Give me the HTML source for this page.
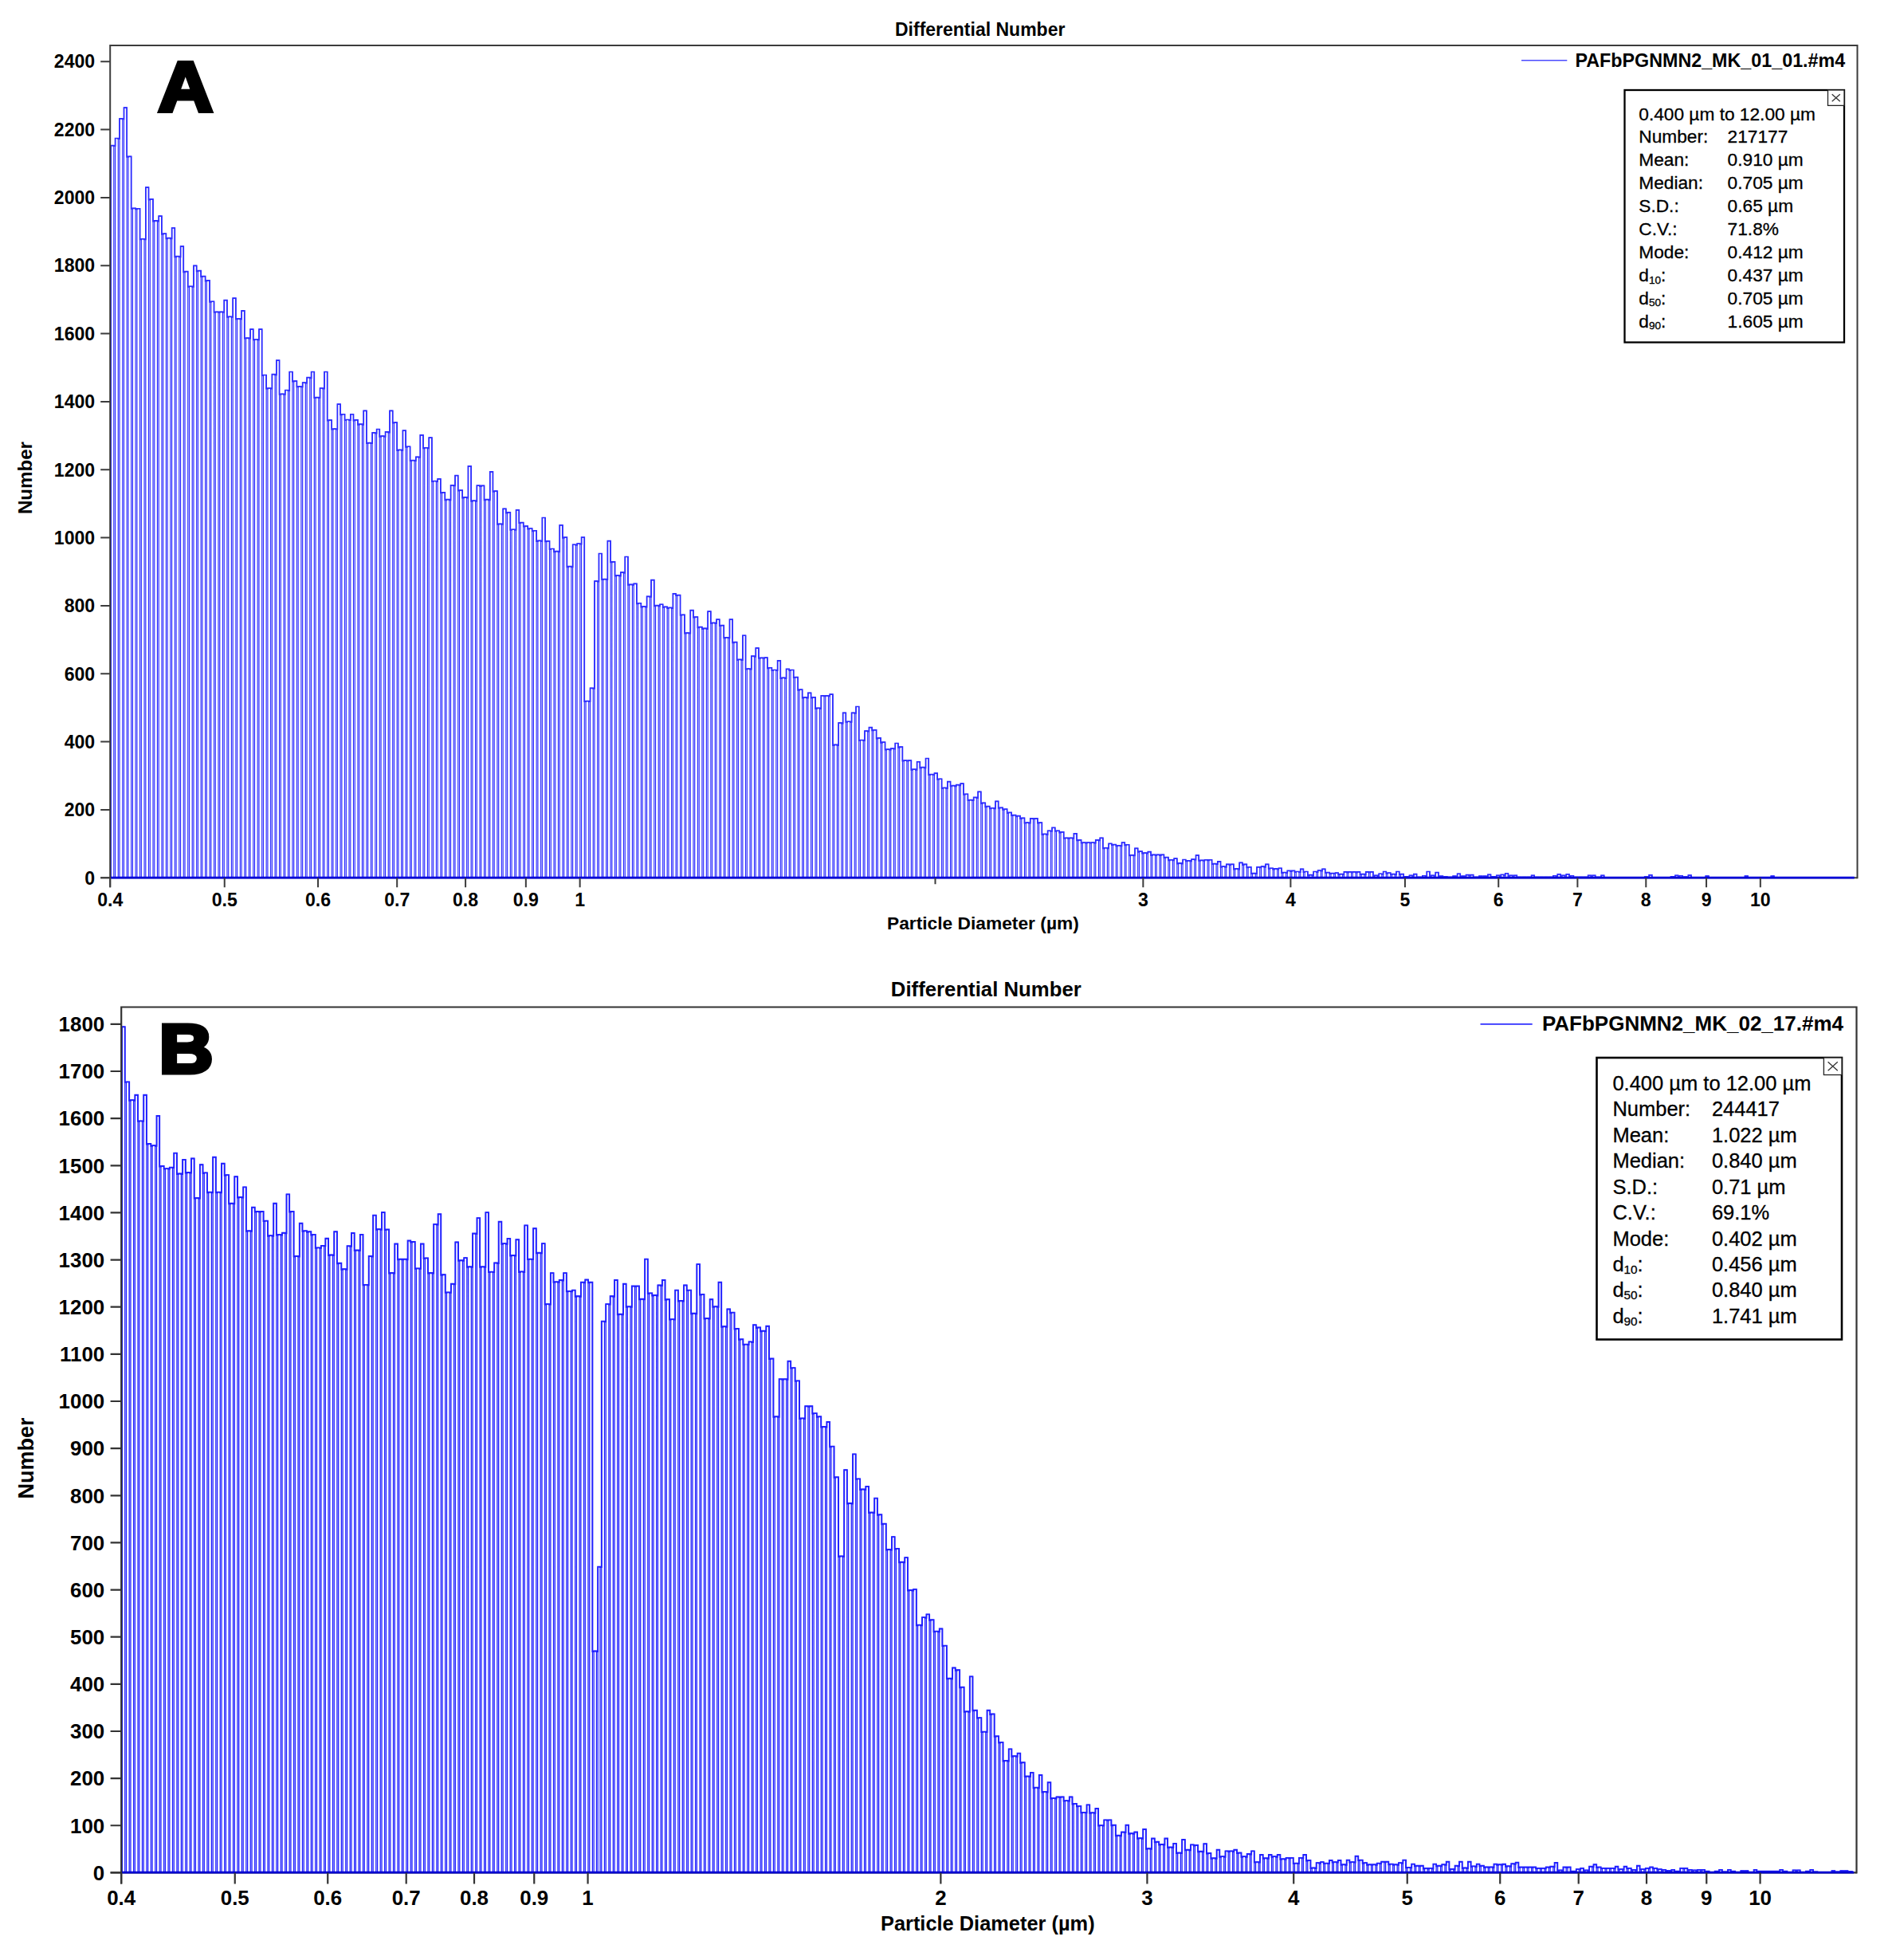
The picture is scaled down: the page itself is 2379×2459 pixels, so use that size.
<!DOCTYPE html>
<html lang="en"><head><meta charset="utf-8"><title>Differential Number</title>
<style>
html,body{margin:0;padding:0;background:#fff}
body{width:2379px;height:2459px;overflow:hidden}
svg{display:block}
text{font-family:"Liberation Sans", Arial, Helvetica, sans-serif;fill:#000}
.b{font-weight:700}
.r{font-weight:400;stroke:#000;stroke-width:.3px}
</style></head><body>
<svg width="2379" height="2459" viewBox="0 0 2379 2459">
<rect width="2379" height="2459" fill="#fff"/>
<g id="chartA">
<path d="M143.67 1101.3V182.59M149.14 1101.3V173.51M154.6 1101.3V148.82M160.07 1101.3V196.31M165.54 1101.3V261.33M171.01 1101.3V261.75M176.47 1101.3V299.74M181.94 1101.3V299.74M187.41 1101.3V249.93M192.88 1101.3V276.95M198.34 1101.3V276.95M203.81 1101.3V293.2M209.28 1101.3V298.69M214.75 1101.3V298.69M220.21 1101.3V321.7M225.68 1101.3V321.7M231.15 1101.3V340.69M236.62 1101.3V359.27M242.08 1101.3V359.27M247.55 1101.3V339.64M253.02 1101.3V346.6M258.49 1101.3V351.88M263.95 1101.3V378.27M269.42 1101.3V391.36M274.89 1101.3V391.36M280.36 1101.3V391.36M285.82 1101.3V397.27M291.29 1101.3V397.27M296.76 1101.3V399.8M302.23 1101.3V399.8M307.69 1101.3V424.07M313.16 1101.3V424.07M318.63 1101.3V425.76M324.1 1101.3V425.76M329.56 1101.3V470.51M335.03 1101.3V486.98M340.5 1101.3V486.98M345.97 1101.3V469.67M351.44 1101.3V494.36M356.9 1101.3V494.36M362.37 1101.3V489.51M367.84 1101.3V478.11M373.31 1101.3V484.87M378.77 1101.3V484.87M384.24 1101.3V480.01M389.71 1101.3V473.68M395.18 1101.3V498.59M400.64 1101.3V498.59M406.11 1101.3V486.98M411.58 1101.3V527.08M417.05 1101.3V538.1M422.51 1101.3V538.1M427.98 1101.3V519.75M433.45 1101.3V526.5M438.92 1101.3V526.5M444.38 1101.3V526.92M449.85 1101.3V532.19M455.32 1101.3V532.19M460.79 1101.3V555.61M466.25 1101.3V555.61M471.72 1101.3V542.95M477.19 1101.3V547.17M482.66 1101.3V547.17M488.12 1101.3V541.9M493.59 1101.3V530.08M499.06 1101.3V564.47M504.53 1101.3V564.47M509.99 1101.3V560.25M515.46 1101.3V577.55M520.93 1101.3V577.55M526.4 1101.3V573.33M531.86 1101.3V561.73M537.33 1101.3V561.73M542.8 1101.3V603.5M548.27 1101.3V603.5M553.73 1101.3V617.85M559.2 1101.3V626.71M564.67 1101.3V626.71M570.14 1101.3V608.78M575.61 1101.3V615.11M581.07 1101.3V623.97M586.54 1101.3V623.97M592.01 1101.3V628.19M597.48 1101.3V628.19M602.94 1101.3V609.41M608.41 1101.3V626.71M613.88 1101.3V626.71M619.35 1101.3V616.16M624.81 1101.3V657.3M630.28 1101.3V657.3M635.75 1101.3V642.95M641.22 1101.3V664.26M646.68 1101.3V664.26M652.15 1101.3V655.61M657.62 1101.3V660.04M663.09 1101.3V663M668.55 1101.3V665.74M674.02 1101.3V678.4M679.49 1101.3V678.4M684.96 1101.3V678.82M690.42 1101.3V688.52M695.89 1101.3V691.69M701.36 1101.3V691.69M706.83 1101.3V674.18M712.29 1101.3V710.68M717.76 1101.3V710.68M723.23 1101.3V683.25M728.7 1101.3V681.98M734.16 1101.3V879.54M739.63 1101.3V879.54M745.1 1101.3V863.29M750.57 1101.3V729.11M756.03 1101.3V726.58M761.5 1101.3V726.58M766.97 1101.3V704.85M772.44 1101.3V721.94M777.91 1101.3V721.94M783.37 1101.3V718.14M788.84 1101.3V733.33M794.31 1101.3V733.33M799.78 1101.3V756.75M805.24 1101.3V760.97M810.71 1101.3V760.97M816.18 1101.3V748.31M821.65 1101.3V759.7M827.11 1101.3V759.7M832.58 1101.3V761.39M838.05 1101.3V762.45M843.52 1101.3V762.45M848.98 1101.3V746.62M854.45 1101.3V771.31M859.92 1101.3V794.09M865.39 1101.3V794.09M870.85 1101.3V774.05M876.32 1101.3V786.71M881.79 1101.3V788.4M887.26 1101.3V788.4M892.72 1101.3V781.43M898.19 1101.3V781.43M903.66 1101.3V784.6M909.13 1101.3V799.79M914.59 1101.3V799.79M920.06 1101.3V805.7M925.53 1101.3V827.43M931 1101.3V827.43M936.46 1101.3V839.03M941.93 1101.3V839.03M947.4 1101.3V823.21M952.87 1101.3V825.32M958.33 1101.3V825.32M963.8 1101.3V837.76M969.27 1101.3V840.51M974.74 1101.3V840.51M980.2 1101.3V850.42M985.67 1101.3V850.42M991.14 1101.3V840.51M996.61 1101.3V849.58M1002.08 1101.3V865.19M1007.54 1101.3V874.89M1013.01 1101.3V874.89M1018.48 1101.3V874.89M1023.95 1101.3V888.4M1029.41 1101.3V888.4M1034.88 1101.3V872.78M1040.35 1101.3V872.78M1045.82 1101.3V934.39M1051.28 1101.3V934.39M1056.75 1101.3V906.96M1062.22 1101.3V905.27M1067.69 1101.3V905.27M1073.15 1101.3V894.3M1078.62 1101.3V928.48M1084.09 1101.3V928.48M1089.56 1101.3V917.09M1095.02 1101.3V915.82M1100.49 1101.3V925.95M1105.96 1101.3V931.22M1111.43 1101.3V940.08M1116.89 1101.3V940.08M1122.36 1101.3V939.03M1127.83 1101.3V937.16M1133.3 1101.3V954.04M1138.76 1101.3V954.04M1144.23 1101.3V965.22M1149.7 1101.3V965.22M1155.17 1101.3V962.69M1160.63 1101.3V962.69M1166.1 1101.3V971.55M1171.57 1101.3V971.55M1177.04 1101.3V977.25M1182.5 1101.3V988.43M1187.97 1101.3V988.43M1193.44 1101.3V985.69M1198.91 1101.3V985.69M1204.38 1101.3V984.63M1209.84 1101.3V996.24M1215.31 1101.3V1003.62M1220.78 1101.3V1003.62M1226.25 1101.3V1000.46M1231.71 1101.3V1007.42M1237.18 1101.3V1011.64M1242.65 1101.3V1013.75M1248.12 1101.3V1013.75M1253.58 1101.3V1013.33M1259.05 1101.3V1015.22M1264.52 1101.3V1019.44M1269.99 1101.3V1022.61M1275.45 1101.3V1023.66M1280.92 1101.3V1026.41M1286.39 1101.3V1032.1M1291.86 1101.3V1032.1M1297.32 1101.3V1026.83M1302.79 1101.3V1032.1M1308.26 1101.3V1046.45M1313.73 1101.3V1046.45M1319.19 1101.3V1042.23M1324.66 1101.3V1042.23M1330.13 1101.3V1043.92M1335.6 1101.3V1051.3M1341.06 1101.3V1051.3M1346.53 1101.3V1051.3M1352 1101.3V1053.83M1357.47 1101.3V1057M1362.93 1101.3V1057M1368.4 1101.3V1057M1373.87 1101.3V1057M1379.34 1101.3V1053.83M1384.8 1101.3V1063.75M1390.27 1101.3V1063.75M1395.74 1101.3V1059.53M1401.21 1101.3V1060.79M1406.67 1101.3V1060.79M1412.14 1101.3V1059.74M1417.61 1101.3V1072.82M1423.08 1101.3V1072.82M1428.55 1101.3V1068.18M1434.01 1101.3V1070.08M1439.48 1101.3V1070.08M1444.95 1101.3V1072.4M1450.42 1101.3V1072.4M1455.88 1101.3V1072.4M1461.35 1101.3V1075.56M1466.82 1101.3V1078.73M1472.29 1101.3V1078.73M1477.75 1101.3V1082.95M1483.22 1101.3V1082.95M1488.69 1101.3V1079.78M1494.16 1101.3V1079.78M1499.62 1101.3V1078.09M1505.09 1101.3V1079.36M1510.56 1101.3V1079.36M1516.03 1101.3V1078.73M1521.49 1101.3V1083.58M1526.96 1101.3V1083.58M1532.43 1101.3V1087.16M1537.9 1101.3V1087.16M1543.36 1101.3V1084.42M1548.83 1101.3V1089.91M1554.3 1101.3V1089.91M1559.77 1101.3V1084.42M1565.23 1101.3V1087.8M1570.7 1101.3V1095.6M1576.17 1101.3V1095.6M1581.64 1101.3V1087.8M1587.1 1101.3V1087.16M1592.57 1101.3V1089.27M1598.04 1101.3V1089.91M1603.51 1101.3V1089.91M1608.97 1101.3V1094.55M1614.44 1101.3V1094.55M1619.91 1101.3V1092.44M1625.38 1101.3V1093.49M1630.85 1101.3V1093.49M1636.31 1101.3V1093.49M1641.78 1101.3V1097.71M1647.25 1101.3V1097.71M1652.72 1101.3V1093.49M1658.18 1101.3V1092.02M1663.65 1101.3V1094.55M1669.12 1101.3V1095.6M1674.59 1101.3V1095.6M1680.05 1101.3V1096.66M1685.52 1101.3V1096.66M1690.99 1101.3V1093.92M1696.46 1101.3V1093.92M1701.92 1101.3V1093.92M1707.39 1101.3V1096.66M1712.86 1101.3V1096.66M1718.33 1101.3V1093.92M1723.79 1101.3V1098.35M1729.26 1101.3V1098.35M1734.73 1101.3V1096.24M1740.2 1101.3V1095.18M1745.66 1101.3V1096.66M1751.13 1101.3V1096.66M1756.6 1101.3V1096.66M1773 1101.3V1098.35M1789.4 1101.3V1098.77M1794.87 1101.3V1098.35M1800.34 1101.3V1098.35M1805.81 1101.3V1099.19M1827.68 1101.3V1099.19M1833.14 1101.3V1099.19M1838.61 1101.3V1099.19M1844.08 1101.3V1097.71M1860.48 1101.3V1099.19M1865.95 1101.3V1099.19M1882.35 1101.3V1098.35M1887.82 1101.3V1097.46M1893.29 1101.3V1098.31M1898.76 1101.3V1098.31M1953.43 1101.3V1098.74M1958.9 1101.3V1098.31M1964.37 1101.3V1098.31M1969.83 1101.3V1098.74M1997.17 1101.3V1098.31M2106.52 1101.3V1098.74" stroke="#e8e8ff" stroke-width="2.4" fill="none"/>
<path d="M139.1 1101.3V182.59H142.77V1101.3M144.57 1101.3V173.51H148.24V1101.3M150.04 1101.3V148.82H153.7V1101.3M155.5 1101.3V135.1H159.17V1101.3M160.97 1101.3V196.31H164.64V1101.3M166.44 1101.3V261.33H170.11V1101.3M171.91 1101.3V261.75H175.57V1101.3M177.37 1101.3V299.74H181.04V1101.3M182.84 1101.3V235.15H186.51V1101.3M188.31 1101.3V249.93H191.98V1101.3M193.78 1101.3V276.95H197.44V1101.3M199.24 1101.3V271.04H202.91V1101.3M204.71 1101.3V293.2H208.38V1101.3M210.18 1101.3V298.69H213.85V1101.3M215.65 1101.3V286.02H219.31V1101.3M221.11 1101.3V321.7H224.78V1101.3M226.58 1101.3V309.03H230.25V1101.3M232.05 1101.3V340.69H235.72V1101.3M237.52 1101.3V359.27H241.18V1101.3M242.98 1101.3V333.31H246.65V1101.3M248.45 1101.3V339.64H252.12V1101.3M253.92 1101.3V346.6H257.59V1101.3M259.39 1101.3V351.88H263.05V1101.3M264.85 1101.3V378.27H268.52V1101.3M270.32 1101.3V391.36H273.99V1101.3M275.79 1101.3V391.36H279.46V1101.3M281.26 1101.3V376.58H284.92V1101.3M286.72 1101.3V397.27H290.39V1101.3M292.19 1101.3V374.05H295.86V1101.3M297.66 1101.3V399.8H301.33V1101.3M303.13 1101.3V389.88H306.79V1101.3M308.59 1101.3V424.07H312.26V1101.3M314.06 1101.3V413.1H317.73V1101.3M319.53 1101.3V425.76H323.2V1101.3M325 1101.3V413.1H328.66V1101.3M330.46 1101.3V470.51H334.13V1101.3M335.93 1101.3V486.98H339.6V1101.3M341.4 1101.3V469.67H345.07V1101.3M346.87 1101.3V452.15H350.54V1101.3M352.34 1101.3V494.36H356V1101.3M357.8 1101.3V489.51H361.47V1101.3M363.27 1101.3V466.5H366.94V1101.3M368.74 1101.3V478.11H372.41V1101.3M374.21 1101.3V484.87H377.87V1101.3M379.67 1101.3V480.01H383.34V1101.3M385.14 1101.3V473.68H388.81V1101.3M390.61 1101.3V466.5H394.28V1101.3M396.08 1101.3V498.59H399.74V1101.3M401.54 1101.3V486.98H405.21V1101.3M407.01 1101.3V466.5H410.68V1101.3M412.48 1101.3V527.08H416.15V1101.3M417.95 1101.3V538.1H421.61V1101.3M423.41 1101.3V507.09H427.08V1101.3M428.88 1101.3V519.75H432.55V1101.3M434.35 1101.3V526.5H438.02V1101.3M439.82 1101.3V519.75H443.48V1101.3M445.28 1101.3V526.92H448.95V1101.3M450.75 1101.3V532.19H454.42V1101.3M456.22 1101.3V515.32H459.89V1101.3M461.69 1101.3V555.61H465.35V1101.3M467.15 1101.3V542.95H470.82V1101.3M472.62 1101.3V538.52H476.29V1101.3M478.09 1101.3V547.17H481.76V1101.3M483.56 1101.3V541.9H487.22V1101.3M489.02 1101.3V515.32H492.69V1101.3M494.49 1101.3V530.08H498.16V1101.3M499.96 1101.3V564.47H503.63V1101.3M505.43 1101.3V540.21H509.09V1101.3M510.89 1101.3V560.25H514.56V1101.3M516.36 1101.3V577.55H520.03V1101.3M521.83 1101.3V573.33H525.5V1101.3M527.3 1101.3V545.91H530.96V1101.3M532.76 1101.3V561.73H536.43V1101.3M538.23 1101.3V549.07H541.9V1101.3M543.7 1101.3V603.5H547.37V1101.3M549.17 1101.3V600.97H552.83V1101.3M554.63 1101.3V617.85H558.3V1101.3M560.1 1101.3V626.71H563.77V1101.3M565.57 1101.3V608.78H569.24V1101.3M571.04 1101.3V596.54H574.71V1101.3M576.51 1101.3V615.11H580.17V1101.3M581.97 1101.3V623.97H585.64V1101.3M587.44 1101.3V584.94H591.11V1101.3M592.91 1101.3V628.19H596.58V1101.3M598.38 1101.3V609.2H602.04V1101.3M603.84 1101.3V609.41H607.51V1101.3M609.31 1101.3V626.71H612.98V1101.3M614.78 1101.3V591.9H618.45V1101.3M620.25 1101.3V616.16H623.91V1101.3M625.71 1101.3V657.3H629.38V1101.3M631.18 1101.3V638.31H634.85V1101.3M636.65 1101.3V642.95H640.32V1101.3M642.12 1101.3V664.26H645.78V1101.3M647.58 1101.3V639.79H651.25V1101.3M653.05 1101.3V655.61H656.72V1101.3M658.52 1101.3V660.04H662.19V1101.3M663.99 1101.3V663H667.65V1101.3M669.45 1101.3V665.74H673.12V1101.3M674.92 1101.3V678.4H678.59V1101.3M680.39 1101.3V649.49H684.06V1101.3M685.86 1101.3V678.82H689.52V1101.3M691.32 1101.3V688.52H694.99V1101.3M696.79 1101.3V691.69H700.46V1101.3M702.26 1101.3V658.78H705.93V1101.3M707.73 1101.3V674.18H711.39V1101.3M713.19 1101.3V710.68H716.86V1101.3M718.66 1101.3V683.25H722.33V1101.3M724.13 1101.3V681.98H727.8V1101.3M729.6 1101.3V674.18H733.26V1101.3M735.06 1101.3V879.54H738.73V1101.3M740.53 1101.3V863.29H744.2V1101.3M746 1101.3V729.11H749.67V1101.3M751.47 1101.3V694.51H755.13V1101.3M756.93 1101.3V726.58H760.6V1101.3M762.4 1101.3V678.69H766.07V1101.3M767.87 1101.3V704.85H771.54V1101.3M773.34 1101.3V721.94H777.01V1101.3M778.81 1101.3V718.14H782.47V1101.3M784.27 1101.3V698.52H787.94V1101.3M789.74 1101.3V733.33H793.41V1101.3M795.21 1101.3V732.28H798.88V1101.3M800.68 1101.3V756.75H804.34V1101.3M806.14 1101.3V760.97H809.81V1101.3M811.61 1101.3V748.31H815.28V1101.3M817.08 1101.3V727.64H820.75V1101.3M822.55 1101.3V759.7H826.21V1101.3M828.01 1101.3V758.23H831.68V1101.3M833.48 1101.3V761.39H837.15V1101.3M838.95 1101.3V762.45H842.62V1101.3M844.42 1101.3V744.94H848.08V1101.3M849.88 1101.3V746.62H853.55V1101.3M855.35 1101.3V771.31H859.02V1101.3M860.82 1101.3V794.09H864.49V1101.3M866.29 1101.3V765.61H869.95V1101.3M871.75 1101.3V774.05H875.42V1101.3M877.22 1101.3V786.71H880.89V1101.3M882.69 1101.3V788.4H886.36V1101.3M888.16 1101.3V767.09H891.82V1101.3M893.62 1101.3V781.43H897.29V1101.3M899.09 1101.3V777.22H902.76V1101.3M904.56 1101.3V784.6H908.23V1101.3M910.03 1101.3V799.79H913.69V1101.3M915.49 1101.3V777.22H919.16V1101.3M920.96 1101.3V805.7H924.63V1101.3M926.43 1101.3V827.43H930.1V1101.3M931.9 1101.3V797.26H935.56V1101.3M937.36 1101.3V839.03H941.03V1101.3M942.83 1101.3V823.21H946.5V1101.3M948.3 1101.3V813.08H951.97V1101.3M953.77 1101.3V825.32H957.43V1101.3M959.23 1101.3V825.11H962.9V1101.3M964.7 1101.3V837.76H968.37V1101.3M970.17 1101.3V840.51H973.84V1101.3M975.64 1101.3V828.9H979.3V1101.3M981.1 1101.3V850.42H984.77V1101.3M986.57 1101.3V839.45H990.24V1101.3M992.04 1101.3V840.51H995.71V1101.3M997.51 1101.3V849.58H1001.18V1101.3M1002.98 1101.3V865.19H1006.64V1101.3M1008.44 1101.3V874.89H1012.11V1101.3M1013.91 1101.3V869.41H1017.58V1101.3M1019.38 1101.3V874.89H1023.05V1101.3M1024.85 1101.3V888.4H1028.51V1101.3M1030.31 1101.3V872.78H1033.98V1101.3M1035.78 1101.3V872.78H1039.45V1101.3M1041.25 1101.3V871.1H1044.92V1101.3M1046.72 1101.3V934.39H1050.38V1101.3M1052.18 1101.3V906.96H1055.85V1101.3M1057.65 1101.3V894.3H1061.32V1101.3M1063.12 1101.3V905.27H1066.79V1101.3M1068.59 1101.3V894.3H1072.25V1101.3M1074.05 1101.3V886.5H1077.72V1101.3M1079.52 1101.3V928.48H1083.19V1101.3M1084.99 1101.3V917.09H1088.66V1101.3M1090.46 1101.3V912.66H1094.12V1101.3M1095.92 1101.3V915.82H1099.59V1101.3M1101.39 1101.3V925.95H1105.06V1101.3M1106.86 1101.3V931.22H1110.53V1101.3M1112.33 1101.3V940.08H1115.99V1101.3M1117.79 1101.3V939.03H1121.46V1101.3M1123.26 1101.3V932.52H1126.93V1101.3M1128.73 1101.3V937.16H1132.4V1101.3M1134.2 1101.3V954.04H1137.86V1101.3M1139.66 1101.3V954.04H1143.33V1101.3M1145.13 1101.3V965.22H1148.8V1101.3M1150.6 1101.3V955.73H1154.27V1101.3M1156.07 1101.3V962.69H1159.73V1101.3M1161.53 1101.3V951.51H1165.2V1101.3M1167 1101.3V971.55H1170.67V1101.3M1172.47 1101.3V970.08H1176.14V1101.3M1177.94 1101.3V977.25H1181.6V1101.3M1183.4 1101.3V988.43H1187.07V1101.3M1188.87 1101.3V980.62H1192.54V1101.3M1194.34 1101.3V985.69H1198.01V1101.3M1199.81 1101.3V984.63H1203.48V1101.3M1205.28 1101.3V983.16H1208.94V1101.3M1210.74 1101.3V996.24H1214.41V1101.3M1216.21 1101.3V1003.62H1219.88V1101.3M1221.68 1101.3V1000.46H1225.35V1101.3M1227.15 1101.3V993.28H1230.81V1101.3M1232.61 1101.3V1007.42H1236.28V1101.3M1238.08 1101.3V1011.64H1241.75V1101.3M1243.55 1101.3V1013.75H1247.22V1101.3M1249.02 1101.3V1005.31H1252.68V1101.3M1254.48 1101.3V1013.33H1258.15V1101.3M1259.95 1101.3V1015.22H1263.62V1101.3M1265.42 1101.3V1019.44H1269.09V1101.3M1270.89 1101.3V1022.61H1274.55V1101.3M1276.35 1101.3V1023.66H1280.02V1101.3M1281.82 1101.3V1026.41H1285.49V1101.3M1287.29 1101.3V1032.1H1290.96V1101.3M1292.76 1101.3V1026.83H1296.42V1101.3M1298.22 1101.3V1026.83H1301.89V1101.3M1303.69 1101.3V1032.1H1307.36V1101.3M1309.16 1101.3V1046.45H1312.83V1101.3M1314.63 1101.3V1042.23H1318.29V1101.3M1320.09 1101.3V1038.43H1323.76V1101.3M1325.56 1101.3V1042.23H1329.23V1101.3M1331.03 1101.3V1043.92H1334.7V1101.3M1336.5 1101.3V1051.3H1340.16V1101.3M1341.96 1101.3V1051.3H1345.63V1101.3M1347.43 1101.3V1045.81H1351.1V1101.3M1352.9 1101.3V1053.83H1356.57V1101.3M1358.37 1101.3V1057H1362.03V1101.3M1363.83 1101.3V1057H1367.5V1101.3M1369.3 1101.3V1057H1372.97V1101.3M1374.77 1101.3V1053.83H1378.44V1101.3M1380.24 1101.3V1051.3H1383.9V1101.3M1385.7 1101.3V1063.75H1389.37V1101.3M1391.17 1101.3V1058.47H1394.84V1101.3M1396.64 1101.3V1059.53H1400.31V1101.3M1402.11 1101.3V1060.79H1405.77V1101.3M1407.57 1101.3V1057H1411.24V1101.3M1413.04 1101.3V1059.74H1416.71V1101.3M1418.51 1101.3V1072.82H1422.18V1101.3M1423.98 1101.3V1064.38H1427.65V1101.3M1429.45 1101.3V1068.18H1433.11V1101.3M1434.91 1101.3V1070.08H1438.58V1101.3M1440.38 1101.3V1068.6H1444.05V1101.3M1445.85 1101.3V1072.4H1449.52V1101.3M1451.32 1101.3V1072.4H1454.98V1101.3M1456.78 1101.3V1072.4H1460.45V1101.3M1462.25 1101.3V1075.56H1465.92V1101.3M1467.72 1101.3V1078.73H1471.39V1101.3M1473.19 1101.3V1077.04H1476.85V1101.3M1478.65 1101.3V1082.95H1482.32V1101.3M1484.12 1101.3V1078.52H1487.79V1101.3M1489.59 1101.3V1079.78H1493.26V1101.3M1495.06 1101.3V1078.09H1498.72V1101.3M1500.52 1101.3V1073.03H1504.19V1101.3M1505.99 1101.3V1079.36H1509.66V1101.3M1511.46 1101.3V1078.73H1515.13V1101.3M1516.93 1101.3V1078.73H1520.59V1101.3M1522.39 1101.3V1083.58H1526.06V1101.3M1527.86 1101.3V1080.84H1531.53V1101.3M1533.33 1101.3V1087.16H1537V1101.3M1538.8 1101.3V1084.42H1542.46V1101.3M1544.26 1101.3V1084.42H1547.93V1101.3M1549.73 1101.3V1089.91H1553.4V1101.3M1555.2 1101.3V1082.31H1558.87V1101.3M1560.67 1101.3V1084.42H1564.33V1101.3M1566.13 1101.3V1087.8H1569.8V1101.3M1571.6 1101.3V1095.6H1575.27V1101.3M1577.07 1101.3V1087.8H1580.74V1101.3M1582.54 1101.3V1087.16H1586.2V1101.3M1588 1101.3V1084.42H1591.67V1101.3M1593.47 1101.3V1089.27H1597.14V1101.3M1598.94 1101.3V1089.91H1602.61V1101.3M1604.41 1101.3V1089.27H1608.07V1101.3M1609.87 1101.3V1094.55H1613.54V1101.3M1615.34 1101.3V1092.44H1619.01V1101.3M1620.81 1101.3V1092.44H1624.48V1101.3M1626.28 1101.3V1093.49H1629.95V1101.3M1631.75 1101.3V1090.33H1635.41V1101.3M1637.21 1101.3V1093.49H1640.88V1101.3M1642.68 1101.3V1097.71H1646.35V1101.3M1648.15 1101.3V1093.49H1651.82V1101.3M1653.62 1101.3V1092.02H1657.28V1101.3M1659.08 1101.3V1090.33H1662.75V1101.3M1664.55 1101.3V1094.55H1668.22V1101.3M1670.02 1101.3V1095.6H1673.69V1101.3M1675.49 1101.3V1095.18H1679.15V1101.3M1680.95 1101.3V1096.66H1684.62V1101.3M1686.42 1101.3V1093.92H1690.09V1101.3M1691.89 1101.3V1093.92H1695.56V1101.3M1697.36 1101.3V1093.92H1701.02V1101.3M1702.82 1101.3V1093.92H1706.49V1101.3M1708.29 1101.3V1096.66H1711.96V1101.3M1713.76 1101.3V1093.92H1717.43V1101.3M1719.23 1101.3V1093.92H1722.89V1101.3M1724.69 1101.3V1098.35H1728.36V1101.3M1730.16 1101.3V1096.24H1733.83V1101.3M1735.63 1101.3V1093.49H1739.3V1101.3M1741.1 1101.3V1095.18H1744.76V1101.3M1746.56 1101.3V1096.66H1750.23V1101.3M1752.03 1101.3V1093.49H1755.7V1101.3M1757.5 1101.3V1096.66H1761.17V1101.3M1762.97 1101.3V1099.82H1766.63V1101.3M1768.43 1101.3V1098.35H1772.1V1101.3M1773.9 1101.3V1096.66H1777.57V1101.3M1779.37 1101.3V1100.46H1783.04V1101.3M1784.84 1101.3V1098.77H1788.5V1101.3M1790.3 1101.3V1093.49H1793.97V1101.3M1795.77 1101.3V1098.35H1799.44V1101.3M1801.24 1101.3V1094.55H1804.91V1101.3M1806.71 1101.3V1099.19H1810.37V1101.3M1812.17 1101.3V1099.82H1815.84V1101.3M1817.64 1101.3V1100.46H1821.31V1101.3M1823.11 1101.3V1099.19H1826.78V1101.3M1828.58 1101.3V1096.24H1832.24V1101.3M1834.04 1101.3V1099.19H1837.71V1101.3M1839.51 1101.3V1097.71H1843.18V1101.3M1844.98 1101.3V1097.71H1848.65V1101.3M1850.45 1101.3V1100.46H1854.12V1101.3M1855.92 1101.3V1099.19H1859.58V1101.3M1861.38 1101.3V1099.19H1865.05V1101.3M1866.85 1101.3V1097.29H1870.52V1101.3M1872.32 1101.3V1099.82H1875.99V1101.3M1877.79 1101.3V1098.35H1881.45V1101.3M1883.25 1101.3V1097.46H1886.92V1101.3M1888.72 1101.3V1095.75H1892.39V1101.3M1894.19 1101.3V1098.31H1897.86V1101.3M1899.66 1101.3V1098.31H1903.32V1101.3M1905.12 1101.3V1100.45H1908.79V1101.3M1910.59 1101.3V1100.45H1914.26V1101.3M1916.06 1101.3V1100.45H1919.73V1101.3M1921.53 1101.3V1098.31H1925.19V1101.3M1926.99 1101.3V1100.45H1930.66V1101.3M1932.46 1101.3V1100.45H1936.13V1101.3M1937.93 1101.3V1100.45H1941.6V1101.3M1943.4 1101.3V1100.45H1947.06V1101.3M1948.86 1101.3V1098.74H1952.53V1101.3M1954.33 1101.3V1096.82H1958V1101.3M1959.8 1101.3V1098.31H1963.47V1101.3M1965.27 1101.3V1096.82H1968.93V1101.3M1970.73 1101.3V1098.74H1974.4V1101.3M1976.2 1101.3V1100.45H1979.87V1101.3M1981.67 1101.3V1100.45H1985.34V1101.3M1987.14 1101.3V1100.45H1990.8V1101.3M1992.6 1101.3V1098.31H1996.27V1101.3M1998.07 1101.3V1098.31H2001.74V1101.3M2003.54 1101.3V1100.45H2007.21V1101.3M2009.01 1101.3V1098.31H2012.67V1101.3M2063.68 1101.3V1100.02H2067.35V1101.3M2069.15 1101.3V1097.89H2072.82V1101.3M2096.49 1101.3V1099.81H2100.16V1101.3M2101.96 1101.3V1098.31H2105.62V1101.3M2107.42 1101.3V1098.74H2111.09V1101.3M2112.89 1101.3V1100.02H2116.56V1101.3M2118.36 1101.3V1098.1H2122.03V1101.3M2140.23 1101.3V1099.17H2143.9V1101.3M2189.44 1101.3V1099.17H2193.1V1101.3M2222.24 1101.3V1099.17H2225.91V1101.3" stroke="#2828ff" stroke-width="1.1" fill="#fff" stroke-linejoin="miter"/>
<path d="M139.1 1101.3V182.59H142.77V184.09M144.57 184.09V173.51H148.24V175.01M150.04 175.01V148.82H153.7V150.32M155.5 150.32V135.1H159.17V197.81M160.97 197.81V196.31H164.64V262.83M166.44 262.83V261.33H170.11V263.25M171.91 263.25V261.75H175.57V301.24M177.37 301.24V299.74H181.04V301.24M182.84 301.24V235.15H186.51V251.43M188.31 251.43V249.93H191.98V278.45M193.78 278.45V276.95H197.44V278.45M199.24 278.45V271.04H202.91V294.7M204.71 294.7V293.2H208.38V300.19M210.18 300.19V298.69H213.85V300.19M215.65 300.19V286.02H219.31V323.2M221.11 323.2V321.7H224.78V323.2M226.58 323.2V309.03H230.25V342.19M232.05 342.19V340.69H235.72V360.77M237.52 360.77V359.27H241.18V360.77M242.98 360.77V333.31H246.65V341.14M248.45 341.14V339.64H252.12V348.1M253.92 348.1V346.6H257.59V353.38M259.39 353.38V351.88H263.05V379.77M264.85 379.77V378.27H268.52V392.86M270.32 392.86V391.36H273.99V392.86M275.79 392.86V391.36H279.46V392.86M281.26 392.86V376.58H284.92V398.77M286.72 398.77V397.27H290.39V398.77M292.19 398.77V374.05H295.86V401.3M297.66 401.3V399.8H301.33V401.3M303.13 401.3V389.88H306.79V425.57M308.59 425.57V424.07H312.26V425.57M314.06 425.57V413.1H317.73V427.26M319.53 427.26V425.76H323.2V427.26M325 427.26V413.1H328.66V472.01M330.46 472.01V470.51H334.13V488.48M335.93 488.48V486.98H339.6V488.48M341.4 488.48V469.67H345.07V471.17M346.87 471.17V452.15H350.54V495.86M352.34 495.86V494.36H356V495.86M357.8 495.86V489.51H361.47V491.01M363.27 491.01V466.5H366.94V479.61M368.74 479.61V478.11H372.41V486.37M374.21 486.37V484.87H377.87V486.37M379.67 486.37V480.01H383.34V481.51M385.14 481.51V473.68H388.81V475.18M390.61 475.18V466.5H394.28V500.09M396.08 500.09V498.59H399.74V500.09M401.54 500.09V486.98H405.21V488.48M407.01 488.48V466.5H410.68V528.58M412.48 528.58V527.08H416.15V539.6M417.95 539.6V538.1H421.61V539.6M423.41 539.6V507.09H427.08V521.25M428.88 521.25V519.75H432.55V528M434.35 528V526.5H438.02V528M439.82 528V519.75H443.48V528.42M445.28 528.42V526.92H448.95V533.69M450.75 533.69V532.19H454.42V533.69M456.22 533.69V515.32H459.89V557.11M461.69 557.11V555.61H465.35V557.11M467.15 557.11V542.95H470.82V544.45M472.62 544.45V538.52H476.29V548.67M478.09 548.67V547.17H481.76V548.67M483.56 548.67V541.9H487.22V543.4M489.02 543.4V515.32H492.69V531.58M494.49 531.58V530.08H498.16V565.97M499.96 565.97V564.47H503.63V565.97M505.43 565.97V540.21H509.09V561.75M510.89 561.75V560.25H514.56V579.05M516.36 579.05V577.55H520.03V579.05M521.83 579.05V573.33H525.5V574.83M527.3 574.83V545.91H530.96V563.23M532.76 563.23V561.73H536.43V563.23M538.23 563.23V549.07H541.9V605M543.7 605V603.5H547.37V605M549.17 605V600.97H552.83V619.35M554.63 619.35V617.85H558.3V628.21M560.1 628.21V626.71H563.77V628.21M565.57 628.21V608.78H569.24V610.28M571.04 610.28V596.54H574.71V616.61M576.51 616.61V615.11H580.17V625.47M581.97 625.47V623.97H585.64V625.47M587.44 625.47V584.94H591.11V629.69M592.91 629.69V628.19H596.58V629.69M598.38 629.69V609.2H602.04V610.91M603.84 610.91V609.41H607.51V628.21M609.31 628.21V626.71H612.98V628.21M614.78 628.21V591.9H618.45V617.66M620.25 617.66V616.16H623.91V658.8M625.71 658.8V657.3H629.38V658.8M631.18 658.8V638.31H634.85V644.45M636.65 644.45V642.95H640.32V665.76M642.12 665.76V664.26H645.78V665.76M647.58 665.76V639.79H651.25V657.11M653.05 657.11V655.61H656.72V661.54M658.52 661.54V660.04H662.19V664.5M663.99 664.5V663H667.65V667.24M669.45 667.24V665.74H673.12V679.9M674.92 679.9V678.4H678.59V679.9M680.39 679.9V649.49H684.06V680.32M685.86 680.32V678.82H689.52V690.02M691.32 690.02V688.52H694.99V693.19M696.79 693.19V691.69H700.46V693.19M702.26 693.19V658.78H705.93V675.68M707.73 675.68V674.18H711.39V712.18M713.19 712.18V710.68H716.86V712.18M718.66 712.18V683.25H722.33V684.75M724.13 684.75V681.98H727.8V683.48M729.6 683.48V674.18H733.26V881.04M735.06 881.04V879.54H738.73V881.04M740.53 881.04V863.29H744.2V864.79M746 864.79V729.11H749.67V730.61M751.47 730.61V694.51H755.13V728.08M756.93 728.08V726.58H760.6V728.08M762.4 728.08V678.69H766.07V706.35M767.87 706.35V704.85H771.54V723.44M773.34 723.44V721.94H777.01V723.44M778.81 723.44V718.14H782.47V719.64M784.27 719.64V698.52H787.94V734.83M789.74 734.83V733.33H793.41V734.83M795.21 734.83V732.28H798.88V758.25M800.68 758.25V756.75H804.34V762.47M806.14 762.47V760.97H809.81V762.47M811.61 762.47V748.31H815.28V749.81M817.08 749.81V727.64H820.75V761.2M822.55 761.2V759.7H826.21V761.2M828.01 761.2V758.23H831.68V762.89M833.48 762.89V761.39H837.15V763.95M838.95 763.95V762.45H842.62V763.95M844.42 763.95V744.94H848.08V748.12M849.88 748.12V746.62H853.55V772.81M855.35 772.81V771.31H859.02V795.59M860.82 795.59V794.09H864.49V795.59M866.29 795.59V765.61H869.95V775.55M871.75 775.55V774.05H875.42V788.21M877.22 788.21V786.71H880.89V789.9M882.69 789.9V788.4H886.36V789.9M888.16 789.9V767.09H891.82V782.93M893.62 782.93V781.43H897.29V782.93M899.09 782.93V777.22H902.76V786.1M904.56 786.1V784.6H908.23V801.29M910.03 801.29V799.79H913.69V801.29M915.49 801.29V777.22H919.16V807.2M920.96 807.2V805.7H924.63V828.93M926.43 828.93V827.43H930.1V828.93M931.9 828.93V797.26H935.56V840.53M937.36 840.53V839.03H941.03V840.53M942.83 840.53V823.21H946.5V824.71M948.3 824.71V813.08H951.97V826.82M953.77 826.82V825.32H957.43V826.82M959.23 826.82V825.11H962.9V839.26M964.7 839.26V837.76H968.37V842.01M970.17 842.01V840.51H973.84V842.01M975.64 842.01V828.9H979.3V851.92M981.1 851.92V850.42H984.77V851.92M986.57 851.92V839.45H990.24V842.01M992.04 842.01V840.51H995.71V851.08M997.51 851.08V849.58H1001.18V866.69M1002.98 866.69V865.19H1006.64V876.39M1008.44 876.39V874.89H1012.11V876.39M1013.91 876.39V869.41H1017.58V876.39M1019.38 876.39V874.89H1023.05V889.9M1024.85 889.9V888.4H1028.51V889.9M1030.31 889.9V872.78H1033.98V874.28M1035.78 874.28V872.78H1039.45V874.28M1041.25 874.28V871.1H1044.92V935.89M1046.72 935.89V934.39H1050.38V935.89M1052.18 935.89V906.96H1055.85V908.46M1057.65 908.46V894.3H1061.32V906.77M1063.12 906.77V905.27H1066.79V906.77M1068.59 906.77V894.3H1072.25V895.8M1074.05 895.8V886.5H1077.72V929.98M1079.52 929.98V928.48H1083.19V929.98M1084.99 929.98V917.09H1088.66V918.59M1090.46 918.59V912.66H1094.12V917.32M1095.92 917.32V915.82H1099.59V927.45M1101.39 927.45V925.95H1105.06V932.72M1106.86 932.72V931.22H1110.53V941.58M1112.33 941.58V940.08H1115.99V941.58M1117.79 941.58V939.03H1121.46V940.53M1123.26 940.53V932.52H1126.93V938.66M1128.73 938.66V937.16H1132.4V955.54M1134.2 955.54V954.04H1137.86V955.54M1139.66 955.54V954.04H1143.33V966.72M1145.13 966.72V965.22H1148.8V966.72M1150.6 966.72V955.73H1154.27V964.19M1156.07 964.19V962.69H1159.73V964.19M1161.53 964.19V951.51H1165.2V973.05M1167 973.05V971.55H1170.67V973.05M1172.47 973.05V970.08H1176.14V978.75M1177.94 978.75V977.25H1181.6V989.93M1183.4 989.93V988.43H1187.07V989.93M1188.87 989.93V980.62H1192.54V987.19M1194.34 987.19V985.69H1198.01V987.19M1199.81 987.19V984.63H1203.48V986.13M1205.28 986.13V983.16H1208.94V997.74M1210.74 997.74V996.24H1214.41V1005.12M1216.21 1005.12V1003.62H1219.88V1005.12M1221.68 1005.12V1000.46H1225.35V1001.96M1227.15 1001.96V993.28H1230.81V1008.92M1232.61 1008.92V1007.42H1236.28V1013.14M1238.08 1013.14V1011.64H1241.75V1015.25M1243.55 1015.25V1013.75H1247.22V1015.25M1249.02 1015.25V1005.31H1252.68V1014.83M1254.48 1014.83V1013.33H1258.15V1016.72M1259.95 1016.72V1015.22H1263.62V1020.94M1265.42 1020.94V1019.44H1269.09V1024.11M1270.89 1024.11V1022.61H1274.55V1025.16M1276.35 1025.16V1023.66H1280.02V1027.91M1281.82 1027.91V1026.41H1285.49V1033.6M1287.29 1033.6V1032.1H1290.96V1033.6M1292.76 1033.6V1026.83H1296.42V1028.33M1298.22 1028.33V1026.83H1301.89V1033.6M1303.69 1033.6V1032.1H1307.36V1047.95M1309.16 1047.95V1046.45H1312.83V1047.95M1314.63 1047.95V1042.23H1318.29V1043.73M1320.09 1043.73V1038.43H1323.76V1043.73M1325.56 1043.73V1042.23H1329.23V1045.42M1331.03 1045.42V1043.92H1334.7V1052.8M1336.5 1052.8V1051.3H1340.16V1052.8M1341.96 1052.8V1051.3H1345.63V1052.8M1347.43 1052.8V1045.81H1351.1V1055.33M1352.9 1055.33V1053.83H1356.57V1058.5M1358.37 1058.5V1057H1362.03V1058.5M1363.83 1058.5V1057H1367.5V1058.5M1369.3 1058.5V1057H1372.97V1058.5M1374.77 1058.5V1053.83H1378.44V1055.33M1380.24 1055.33V1051.3H1383.9V1065.25M1385.7 1065.25V1063.75H1389.37V1065.25M1391.17 1065.25V1058.47H1394.84V1061.03M1396.64 1061.03V1059.53H1400.31V1062.29M1402.11 1062.29V1060.79H1405.77V1062.29M1407.57 1062.29V1057H1411.24V1061.24M1413.04 1061.24V1059.74H1416.71V1074.32M1418.51 1074.32V1072.82H1422.18V1074.32M1423.98 1074.32V1064.38H1427.65V1069.68M1429.45 1069.68V1068.18H1433.11V1071.58M1434.91 1071.58V1070.08H1438.58V1071.58M1440.38 1071.58V1068.6H1444.05V1073.9M1445.85 1073.9V1072.4H1449.52V1073.9M1451.32 1073.9V1072.4H1454.98V1073.9M1456.78 1073.9V1072.4H1460.45V1077.06M1462.25 1077.06V1075.56H1465.92V1080.23M1467.72 1080.23V1078.73H1471.39V1080.23M1473.19 1080.23V1077.04H1476.85V1084.45M1478.65 1084.45V1082.95H1482.32V1084.45M1484.12 1084.45V1078.52H1487.79V1081.28M1489.59 1081.28V1079.78H1493.26V1081.28M1495.06 1081.28V1078.09H1498.72V1079.59M1500.52 1079.59V1073.03H1504.19V1080.86M1505.99 1080.86V1079.36H1509.66V1080.86M1511.46 1080.86V1078.73H1515.13V1080.23M1516.93 1080.23V1078.73H1520.59V1085.08M1522.39 1085.08V1083.58H1526.06V1085.08M1527.86 1085.08V1080.84H1531.53V1088.66M1533.33 1088.66V1087.16H1537V1088.66M1538.8 1088.66V1084.42H1542.46V1085.92M1544.26 1085.92V1084.42H1547.93V1091.41M1549.73 1091.41V1089.91H1553.4V1091.41M1555.2 1091.41V1082.31H1558.87V1085.92M1560.67 1085.92V1084.42H1564.33V1089.3M1566.13 1089.3V1087.8H1569.8V1097.1M1571.6 1097.1V1095.6H1575.27V1097.1M1577.07 1097.1V1087.8H1580.74V1089.3M1582.54 1089.3V1087.16H1586.2V1088.66M1588 1088.66V1084.42H1591.67V1090.77M1593.47 1090.77V1089.27H1597.14V1091.41M1598.94 1091.41V1089.91H1602.61V1091.41M1604.41 1091.41V1089.27H1608.07V1096.05M1609.87 1096.05V1094.55H1613.54V1096.05M1615.34 1096.05V1092.44H1619.01V1093.94M1620.81 1093.94V1092.44H1624.48V1094.99M1626.28 1094.99V1093.49H1629.95V1094.99M1631.75 1094.99V1090.33H1635.41V1094.99M1637.21 1094.99V1093.49H1640.88V1099.21M1642.68 1099.21V1097.71H1646.35V1099.21M1648.15 1099.21V1093.49H1651.82V1094.99M1653.62 1094.99V1092.02H1657.28V1093.52M1659.08 1093.52V1090.33H1662.75V1096.05M1664.55 1096.05V1094.55H1668.22V1097.1M1670.02 1097.1V1095.6H1673.69V1097.1M1675.49 1097.1V1095.18H1679.15V1098.16M1680.95 1098.16V1096.66H1684.62V1098.16M1686.42 1098.16V1093.92H1690.09V1095.42M1691.89 1095.42V1093.92H1695.56V1095.42M1697.36 1095.42V1093.92H1701.02V1095.42M1702.82 1095.42V1093.92H1706.49V1098.16M1708.29 1098.16V1096.66H1711.96V1098.16M1713.76 1098.16V1093.92H1717.43V1095.42M1719.23 1095.42V1093.92H1722.89V1099.85M1724.69 1099.85V1098.35H1728.36V1099.85M1730.16 1099.85V1096.24H1733.83V1097.74M1735.63 1097.74V1093.49H1739.3V1096.68M1741.1 1096.68V1095.18H1744.76V1098.16M1746.56 1098.16V1096.66H1750.23V1098.16M1752.03 1098.16V1093.49H1755.7V1098.16M1757.5 1098.16V1096.66H1761.17V1101.3M1762.97 1101.3V1099.82H1766.63V1101.3M1768.43 1101.3V1098.35H1772.1V1099.85M1773.9 1099.85V1096.66H1777.57V1101.3M1779.37 1101.3V1100.46H1783.04V1101.3M1784.84 1101.3V1098.77H1788.5V1100.27M1790.3 1100.27V1093.49H1793.97V1099.85M1795.77 1099.85V1098.35H1799.44V1099.85M1801.24 1099.85V1094.55H1804.91V1100.69M1806.71 1100.69V1099.19H1810.37V1101.3M1812.17 1101.3V1099.82H1815.84V1101.3M1817.64 1101.3V1100.46H1821.31V1101.3M1823.11 1101.3V1099.19H1826.78V1100.69M1828.58 1100.69V1096.24H1832.24V1100.69M1834.04 1100.69V1099.19H1837.71V1100.69M1839.51 1100.69V1097.71H1843.18V1099.21M1844.98 1099.21V1097.71H1848.65V1101.3M1850.45 1101.3V1100.46H1854.12V1101.3M1855.92 1101.3V1099.19H1859.58V1100.69M1861.38 1100.69V1099.19H1865.05V1100.69M1866.85 1100.69V1097.29H1870.52V1101.3M1872.32 1101.3V1099.82H1875.99V1101.3M1877.79 1101.3V1098.35H1881.45V1099.85M1883.25 1099.85V1097.46H1886.92V1098.96M1888.72 1098.96V1095.75H1892.39V1099.81M1894.19 1099.81V1098.31H1897.86V1099.81M1899.66 1099.81V1098.31H1903.32V1101.3M1905.12 1101.3V1100.45H1908.79V1101.3M1910.59 1101.3V1100.45H1914.26V1101.3M1916.06 1101.3V1100.45H1919.73V1101.3M1921.53 1101.3V1098.31H1925.19V1101.3M1926.99 1101.3V1100.45H1930.66V1101.3M1932.46 1101.3V1100.45H1936.13V1101.3M1937.93 1101.3V1100.45H1941.6V1101.3M1943.4 1101.3V1100.45H1947.06V1101.3M1948.86 1101.3V1098.74H1952.53V1100.24M1954.33 1100.24V1096.82H1958V1099.81M1959.8 1099.81V1098.31H1963.47V1099.81M1965.27 1099.81V1096.82H1968.93V1100.24M1970.73 1100.24V1098.74H1974.4V1101.3M1976.2 1101.3V1100.45H1979.87V1101.3M1981.67 1101.3V1100.45H1985.34V1101.3M1987.14 1101.3V1100.45H1990.8V1101.3M1992.6 1101.3V1098.31H1996.27V1099.81M1998.07 1099.81V1098.31H2001.74V1101.3M2003.54 1101.3V1100.45H2007.21V1101.3M2009.01 1101.3V1098.31H2012.67V1101.3M2063.68 1101.3V1100.02H2067.35V1101.3M2069.15 1101.3V1097.89H2072.82V1101.3M2096.49 1101.3V1099.81H2100.16V1101.3M2101.96 1101.3V1098.31H2105.62V1100.24M2107.42 1100.24V1098.74H2111.09V1101.3M2112.89 1101.3V1100.02H2116.56V1101.3M2118.36 1101.3V1098.1H2122.03V1101.3M2140.23 1101.3V1099.17H2143.9V1101.3M2189.44 1101.3V1099.17H2193.1V1101.3M2222.24 1101.3V1099.17H2225.91V1101.3" stroke="#2c2cff" stroke-width="1.7" fill="none" stroke-linejoin="miter"/>
<path d="M138.2 1113.3V57H2330.5V1102.3" stroke="#3c3c3c" stroke-width="2" fill="none"/>
<path d="M126.2 1101.3H2330.5" stroke="#3c3c3c" stroke-width="2"/>
<path d="M139.2 1101.1H2326.73" stroke="#0000d8" stroke-width="2.6"/>
<text x="119.2" y="1109.57" text-anchor="end" class="b" font-size="23.1">0</text>
<text x="119.2" y="1024.23" text-anchor="end" class="b" font-size="23.1">200</text>
<text x="119.2" y="938.89" text-anchor="end" class="b" font-size="23.1">400</text>
<text x="119.2" y="853.54" text-anchor="end" class="b" font-size="23.1">600</text>
<text x="119.2" y="768.2" text-anchor="end" class="b" font-size="23.1">800</text>
<text x="119.2" y="682.86" text-anchor="end" class="b" font-size="23.1">1000</text>
<text x="119.2" y="597.52" text-anchor="end" class="b" font-size="23.1">1200</text>
<text x="119.2" y="512.18" text-anchor="end" class="b" font-size="23.1">1400</text>
<text x="119.2" y="426.83" text-anchor="end" class="b" font-size="23.1">1600</text>
<text x="119.2" y="341.49" text-anchor="end" class="b" font-size="23.1">1800</text>
<text x="119.2" y="256.15" text-anchor="end" class="b" font-size="23.1">2000</text>
<text x="119.2" y="170.81" text-anchor="end" class="b" font-size="23.1">2200</text>
<text x="119.2" y="85.47" text-anchor="end" class="b" font-size="23.1">2400</text>
<text x="138.2" y="1137.2" text-anchor="middle" class="b" font-size="23.1">0.4</text>
<text x="281.74" y="1137.2" text-anchor="middle" class="b" font-size="23.1">0.5</text>
<text x="399.03" y="1137.2" text-anchor="middle" class="b" font-size="23.1">0.6</text>
<text x="498.19" y="1137.2" text-anchor="middle" class="b" font-size="23.1">0.7</text>
<text x="584.09" y="1137.2" text-anchor="middle" class="b" font-size="23.1">0.8</text>
<text x="659.85" y="1137.2" text-anchor="middle" class="b" font-size="23.1">0.9</text>
<text x="727.63" y="1137.2" text-anchor="middle" class="b" font-size="23.1">1</text>
<text x="1434.34" y="1137.2" text-anchor="middle" class="b" font-size="23.1">3</text>
<text x="1619.4" y="1137.2" text-anchor="middle" class="b" font-size="23.1">4</text>
<text x="1762.94" y="1137.2" text-anchor="middle" class="b" font-size="23.1">5</text>
<text x="1880.23" y="1137.2" text-anchor="middle" class="b" font-size="23.1">6</text>
<text x="1979.39" y="1137.2" text-anchor="middle" class="b" font-size="23.1">7</text>
<text x="2065.29" y="1137.2" text-anchor="middle" class="b" font-size="23.1">8</text>
<text x="2141.05" y="1137.2" text-anchor="middle" class="b" font-size="23.1">9</text>
<text x="2208.83" y="1137.2" text-anchor="middle" class="b" font-size="23.1">10</text>
<path d="M126.2 1101.3H138.2M126.2 1015.96H138.2M126.2 930.62H138.2M126.2 845.27H138.2M126.2 759.93H138.2M126.2 674.59H138.2M126.2 589.25H138.2M126.2 503.91H138.2M126.2 418.56H138.2M126.2 333.22H138.2M126.2 247.88H138.2M126.2 162.54H138.2M126.2 77.2H138.2M138.2 1101.3V1113.3M281.74 1101.3V1113.3M399.03 1101.3V1113.3M498.19 1101.3V1113.3M584.09 1101.3V1113.3M659.85 1101.3V1113.3M727.63 1101.3V1113.3M1173.51 1101.3V1109.3M1434.34 1101.3V1113.3M1619.4 1101.3V1113.3M1762.94 1101.3V1113.3M1880.23 1101.3V1113.3M1979.39 1101.3V1113.3M2065.29 1101.3V1113.3M2141.05 1101.3V1113.3M2208.83 1101.3V1113.3" stroke="#3c3c3c" stroke-width="2" fill="none"/>
<text x="1229.7" y="44.8" text-anchor="middle" class="b" font-size="23">Differential Number</text>
<text x="1233.4" y="1165.7" text-anchor="middle" class="b" font-size="22.78">Particle Diameter (µm)</text>
<text transform="translate(39.7 599.6) rotate(-90)" text-anchor="middle" class="b" font-size="24.1">Number</text>
<text transform="translate(198.6 139.6) scale(1.06 1)" class="b" font-size="89.5" stroke="#000" stroke-width="5.2" stroke-linejoin="miter">A</text>
<path d="M1909 75.8H1966.3" stroke="#4a4aff" stroke-width="1.6"/>
<text x="1976.4" y="83.7" class="b" font-size="23.3">PAFbPGNMN2_MK_01_01.#m4</text>
<rect x="2038.5" y="113" width="275.5" height="316.5" fill="#fff" stroke="#000" stroke-width="2.3"/>
<rect x="2293.5" y="113" width="20.5" height="19.4" fill="#fff" stroke="#222" stroke-width="1.3"/>
<path d="M2298.7 118.2L2308.8 127.2M2308.8 118.2L2298.7 127.2" stroke="#333" stroke-width="1.3" fill="none"/>
<text x="2056.3" y="150.5" class="r" font-size="22.7">0.400 µm to 12.00 µm</text>
<text x="2056.3" y="179.4" class="r" font-size="22.7">Number:</text>
<text x="2167.6" y="179.4" class="r" font-size="22.7">217177</text>
<text x="2056.3" y="208.3" class="r" font-size="22.7">Mean:</text>
<text x="2167.6" y="208.3" class="r" font-size="22.7">0.910 µm</text>
<text x="2056.3" y="237.2" class="r" font-size="22.7">Median:</text>
<text x="2167.6" y="237.2" class="r" font-size="22.7">0.705 µm</text>
<text x="2056.3" y="266.1" class="r" font-size="22.7">S.D.:</text>
<text x="2167.6" y="266.1" class="r" font-size="22.7">0.65 µm</text>
<text x="2056.3" y="295" class="r" font-size="22.7">C.V.:</text>
<text x="2167.6" y="295" class="r" font-size="22.7">71.8%</text>
<text x="2056.3" y="323.9" class="r" font-size="22.7">Mode:</text>
<text x="2167.6" y="323.9" class="r" font-size="22.7">0.412 µm</text>
<text x="2056.3" y="352.8" class="r" font-size="22.7">d<tspan font-size="13.62" dy="2.72">10</tspan><tspan dy="-2.72">:</tspan></text>
<text x="2167.6" y="352.8" class="r" font-size="22.7">0.437 µm</text>
<text x="2056.3" y="381.7" class="r" font-size="22.7">d<tspan font-size="13.62" dy="2.72">50</tspan><tspan dy="-2.72">:</tspan></text>
<text x="2167.6" y="381.7" class="r" font-size="22.7">0.705 µm</text>
<text x="2056.3" y="410.6" class="r" font-size="22.7">d<tspan font-size="13.62" dy="2.72">90</tspan><tspan dy="-2.72">:</tspan></text>
<text x="2167.6" y="410.6" class="r" font-size="22.7">1.605 µm</text>
</g>
<g id="chartB">
<path d="M157.63 2349.4V1357.33M163.06 2349.4V1380.14M168.5 2349.4V1380.14M173.93 2349.4V1406.33M179.36 2349.4V1406.33M184.79 2349.4V1435.05M190.22 2349.4V1437.17M195.66 2349.4V1437.17M201.09 2349.4V1462.93M206.52 2349.4V1466.1M211.95 2349.4V1466.1M217.38 2349.4V1464.62M222.82 2349.4V1472.44M228.25 2349.4V1472.44M233.68 2349.4V1470.96M239.11 2349.4V1470.96M244.54 2349.4V1503.06M249.98 2349.4V1503.06M255.41 2349.4V1471.38M260.84 2349.4V1495.67M266.27 2349.4V1495.67M271.7 2349.4V1495.67M277.14 2349.4V1495.67M282.57 2349.4V1474.13M288 2349.4V1509.82M293.43 2349.4V1509.82M298.86 2349.4V1502.01M304.3 2349.4V1502.01M309.73 2349.4V1544.25M315.16 2349.4V1544.25M320.59 2349.4V1519.96M326.02 2349.4V1519.96M331.46 2349.4V1531.58M336.89 2349.4V1550.17M342.32 2349.4V1550.17M347.75 2349.4V1548.9M353.18 2349.4V1548.9M358.62 2349.4V1546.79M364.05 2349.4V1519.96M369.48 2349.4V1575.93M374.91 2349.4V1575.93M380.34 2349.4V1544.25M385.78 2349.4V1545.31M391.21 2349.4V1548.9M396.64 2349.4V1565.37M402.07 2349.4V1565.37M407.5 2349.4V1562.84M412.94 2349.4V1574.45M418.37 2349.4V1574.45M423.8 2349.4V1584.8M429.23 2349.4V1592.2M434.66 2349.4V1592.2M440.1 2349.4V1563.26M445.53 2349.4V1568.54M450.96 2349.4V1568.54M456.39 2349.4V1611.84M461.82 2349.4V1611.84M467.26 2349.4V1575.93M472.69 2349.4V1542.14M478.12 2349.4V1542.14M483.55 2349.4V1542.56M488.98 2349.4V1597.05M494.42 2349.4V1597.05M499.85 2349.4V1579.74M505.28 2349.4V1579.74M510.71 2349.4V1579.74M516.14 2349.4V1557.98M521.58 2349.4V1591.35M527.01 2349.4V1591.35M532.44 2349.4V1578.47M537.87 2349.4V1597.05M543.3 2349.4V1597.05M548.74 2349.4V1535.91M554.17 2349.4V1599.2M559.6 2349.4V1621.35M565.03 2349.4V1621.35M570.46 2349.4V1610.8M575.9 2349.4V1581.27M581.33 2349.4V1581.27M586.76 2349.4V1589.28M592.19 2349.4V1589.28M597.62 2349.4V1547.51M603.06 2349.4V1589.28M608.49 2349.4V1589.28M613.92 2349.4V1595.61M619.35 2349.4V1595.61M624.78 2349.4V1584.43M630.22 2349.4V1560.17M635.65 2349.4V1560.17M641.08 2349.4V1574.94M646.51 2349.4V1574.94M651.94 2349.4V1595.4M657.38 2349.4V1595.4M662.81 2349.4V1579.58M668.24 2349.4V1579.58M673.67 2349.4V1571.77M679.1 2349.4V1571.77M684.54 2349.4V1636.12M689.97 2349.4V1636.12M695.4 2349.4V1608.27M700.83 2349.4V1608.27M706.26 2349.4V1605.95M711.7 2349.4V1619.87M717.13 2349.4V1619.87M722.56 2349.4V1626.2M727.99 2349.4V1626.2M733.42 2349.4V1608.69M738.86 2349.4V1608.69M744.29 2349.4V2071.44M749.3 2349.4V2071.44M753.9 2349.4V1965.58M759.34 2349.4V1657.64M764.77 2349.4V1636.12M770.21 2349.4V1626.2M775.64 2349.4V1648.78M781.08 2349.4V1648.78M786.51 2349.4V1639.28M791.95 2349.4V1639.28M797.38 2349.4V1613.54M802.82 2349.4V1629.79M808.26 2349.4V1629.79M813.69 2349.4V1622.41M819.13 2349.4V1624.94M824.56 2349.4V1624.94M830 2349.4V1612.49M835.43 2349.4V1630.21M840.87 2349.4V1655.11M846.31 2349.4V1655.11M851.74 2349.4V1631.9M857.18 2349.4V1631.9M862.61 2349.4V1618.61M868.05 2349.4V1647.72M873.48 2349.4V1647.72M878.92 2349.4V1623.88M884.35 2349.4V1654.05M889.79 2349.4V1654.05M895.23 2349.4V1639.28M900.66 2349.4V1639.28M906.1 2349.4V1664.18M911.53 2349.4V1664.18M916.97 2349.4V1646.67M922.4 2349.4V1666.96M927.84 2349.4V1680.25M933.27 2349.4V1686.58M938.71 2349.4V1686.58M944.15 2349.4V1683.42M949.58 2349.4V1665.49M955.02 2349.4V1669.7M960.45 2349.4V1669.7M965.89 2349.4V1704.51M971.32 2349.4V1777.3M976.76 2349.4V1777.3M982.2 2349.4V1730.25M987.63 2349.4V1730.25M993.07 2349.4V1716.12M998.5 2349.4V1732.36M1003.94 2349.4V1779.41M1009.37 2349.4V1779.41M1014.81 2349.4V1764.22M1020.24 2349.4V1773.08M1025.68 2349.4V1777.3M1031.12 2349.4V1789.96M1036.55 2349.4V1789.96M1041.99 2349.4V1814.64M1047.42 2349.4V1853.25M1052.86 2349.4V1952.41M1058.29 2349.4V1952.41M1063.73 2349.4V1885.95M1069.16 2349.4V1885.95M1074.6 2349.4V1855.36M1080.04 2349.4V1868.44M1085.47 2349.4V1868.44M1090.91 2349.4V1897.55M1096.34 2349.4V1897.55M1101.78 2349.4V1900.3M1107.21 2349.4V1911.69M1112.65 2349.4V1943.97M1118.09 2349.4V1943.97M1123.52 2349.4V1942.91M1128.96 2349.4V1959.79M1134.39 2349.4V1959.79M1139.83 2349.4V1994.97M1145.26 2349.4V1994.97M1150.7 2349.4V2038.64M1156.13 2349.4V2038.64M1161.57 2349.4V2029.14M1167.01 2349.4V2032.31M1172.44 2349.4V2046.65M1177.88 2349.4V2046.65M1183.31 2349.4V2064.59M1188.75 2349.4V2105.73M1194.18 2349.4V2105.73M1199.62 2349.4V2095.18M1205.05 2349.4V2116.7M1210.49 2349.4V2147.29M1215.93 2349.4V2147.29M1221.36 2349.4V2145.81M1226.8 2349.4V2155.09M1232.23 2349.4V2172.6M1237.67 2349.4V2172.6M1243.1 2349.4V2150.45M1248.54 2349.4V2178.3M1253.98 2349.4V2185.9M1259.41 2349.4V2208.89M1264.85 2349.4V2208.89M1270.28 2349.4V2203.2M1275.72 2349.4V2203.2M1281.15 2349.4V2211.21M1286.59 2349.4V2228.51M1292.02 2349.4V2228.51M1297.46 2349.4V2242.65M1302.9 2349.4V2242.65M1308.33 2349.4V2247.92M1313.77 2349.4V2247.92M1319.2 2349.4V2255.94M1324.64 2349.4V2255.94M1330.07 2349.4V2254.46M1335.51 2349.4V2259.1M1340.94 2349.4V2259.1M1346.38 2349.4V2262.9M1351.82 2349.4V2265.85M1357.25 2349.4V2273.87M1362.69 2349.4V2273.87M1368.12 2349.4V2274.29M1373.56 2349.4V2274.29M1378.99 2349.4V2290.12M1384.43 2349.4V2290.12M1389.87 2349.4V2283.37M1395.3 2349.4V2289.69M1400.74 2349.4V2302.77M1406.17 2349.4V2302.77M1411.61 2349.4V2298.56M1417.04 2349.4V2300.24M1422.48 2349.4V2300.24M1427.91 2349.4V2306.15M1433.35 2349.4V2306.15M1438.79 2349.4V2319.23M1444.22 2349.4V2319.23M1449.66 2349.4V2310.79M1455.09 2349.4V2313.96M1460.53 2349.4V2313.96M1465.96 2349.4V2317.54M1471.4 2349.4V2317.54M1476.83 2349.4V2324.51M1482.27 2349.4V2324.51M1487.71 2349.4V2320.71M1493.14 2349.4V2320.71M1498.58 2349.4V2315.01M1504.01 2349.4V2322.82M1509.45 2349.4V2322.82M1514.88 2349.4V2324.93M1520.32 2349.4V2331.26M1525.76 2349.4V2331.26M1531.19 2349.4V2329.15M1536.63 2349.4V2329.15M1542.06 2349.4V2322.4M1547.5 2349.4V2322.4M1552.93 2349.4V2324.51M1558.37 2349.4V2329.15M1563.8 2349.4V2329.15M1569.24 2349.4V2325.98M1574.68 2349.4V2336.11M1580.11 2349.4V2336.11M1585.55 2349.4V2331.26M1590.98 2349.4V2331.26M1596.42 2349.4V2329.15M1601.85 2349.4V2329.15M1607.29 2349.4V2332.31M1612.72 2349.4V2332.31M1618.16 2349.4V2330.83M1623.6 2349.4V2337.59M1629.03 2349.4V2337.59M1634.47 2349.4V2330.83M1639.9 2349.4V2334M1645.34 2349.4V2343.49M1650.77 2349.4V2343.49M1656.21 2349.4V2337.16M1661.65 2349.4V2337.59M1667.08 2349.4V2337.59M1672.52 2349.4V2336.11M1677.95 2349.4V2336.11M1683.39 2349.4V2339.27M1688.82 2349.4V2339.27M1694.26 2349.4V2336.11M1699.69 2349.4V2336.11M1705.13 2349.4V2333.58M1710.57 2349.4V2337.16M1716 2349.4V2339.27M1721.44 2349.4V2339.27M1726.87 2349.4V2339.27M1732.31 2349.4V2337.59M1737.74 2349.4V2335.69M1743.18 2349.4V2338.64M1748.61 2349.4V2339.27M1754.05 2349.4V2339.27M1759.49 2349.4V2337.16M1764.92 2349.4V2342.86M1770.36 2349.4V2342.86M1775.79 2349.4V2340.75M1781.23 2349.4V2340.75M1786.66 2349.4V2343.91M1792.1 2349.4V2343.91M1797.54 2349.4V2343.91M1802.97 2349.4V2340.75M1808.41 2349.4V2340.75M1813.84 2349.4V2339.27M1819.28 2349.4V2344.97M1824.71 2349.4V2344.97M1830.15 2349.4V2340.75M1835.58 2349.4V2343.49M1841.02 2349.4V2343.49M1846.46 2349.4V2341.38M1851.89 2349.4V2341.38M1857.33 2349.4V2340.75M1862.76 2349.4V2342.44M1868.2 2349.4V2342.44M1873.63 2349.4V2342.44M1879.07 2349.4V2339.27M1884.5 2349.4V2339.27M1889.94 2349.4V2341.3M1895.38 2349.4V2341.3M1900.81 2349.4V2338.26M1906.25 2349.4V2342.56M1911.68 2349.4V2342.56M1917.12 2349.4V2342.56M1922.55 2349.4V2342.56M1927.99 2349.4V2343.83M1933.43 2349.4V2343.83M1938.86 2349.4V2343.83M1944.3 2349.4V2342.56M1949.73 2349.4V2341.8M1955.17 2349.4V2346.36M1960.6 2349.4V2346.36M1966.04 2349.4V2342.56M1971.47 2349.4V2347.63M1976.91 2349.4V2347.63M1982.35 2349.4V2345.1M1987.78 2349.4V2346.36M1993.22 2349.4V2346.36M1998.65 2349.4V2341.8M2004.09 2349.4V2342.56M2009.52 2349.4V2343.83M2014.96 2349.4V2343.83M2020.39 2349.4V2343.83M2025.83 2349.4V2343.83M2031.27 2349.4V2345.1M2036.7 2349.4V2345.1M2042.14 2349.4V2343.83M2047.57 2349.4V2345.86M2053.01 2349.4V2345.86M2058.44 2349.4V2345.1M2063.88 2349.4V2345.1M2069.32 2349.4V2343.83M2074.75 2349.4V2343.83M2080.19 2349.4V2345.1M2085.62 2349.4V2345.86M2091.06 2349.4V2346.87M2096.49 2349.4V2346.87M2101.93 2349.4V2347.63M2107.36 2349.4V2347.63M2112.8 2349.4V2343.83M2118.24 2349.4V2345.86M2123.67 2349.4V2346.36M2129.11 2349.4V2346.36M2134.54 2349.4V2345.86M2139.98 2349.4V2347.63M2156.28 2349.4V2347.63M2172.59 2349.4V2347.63M2188.9 2349.4V2347.12M2205.21 2349.4V2347.63M2210.64 2349.4V2347.63M2216.08 2349.4V2347.63M2221.51 2349.4V2347.63M2226.95 2349.4V2347.63M2232.38 2349.4V2347.63M2237.82 2349.4V2347.63M2254.13 2349.4V2346.36M2270.43 2349.4V2347.63M2313.92 2349.4V2347.12" stroke="#e2e2ff" stroke-width="2.4" fill="none"/>
<path d="M153.1 2349.4V1288.26H156.73V2349.4M158.53 2349.4V1357.33H162.16V2349.4M163.96 2349.4V1380.14H167.6V2349.4M169.4 2349.4V1373.8H173.03V2349.4M174.83 2349.4V1406.33H178.46V2349.4M180.26 2349.4V1373.8H183.89V2349.4M185.69 2349.4V1435.05H189.32V2349.4M191.12 2349.4V1437.17H194.76V2349.4M196.56 2349.4V1399.99H200.19V2349.4M201.99 2349.4V1462.93H205.62V2349.4M207.42 2349.4V1466.1H211.05V2349.4M212.85 2349.4V1464.62H216.48V2349.4M218.28 2349.4V1446.67H221.92V2349.4M223.72 2349.4V1472.44H227.35V2349.4M229.15 2349.4V1454.91H232.78V2349.4M234.58 2349.4V1470.96H238.21V2349.4M240.01 2349.4V1453.43H243.64V2349.4M245.44 2349.4V1503.06H249.08V2349.4M250.88 2349.4V1461.24H254.51V2349.4M256.31 2349.4V1471.38H259.94V2349.4M261.74 2349.4V1495.67H265.37V2349.4M267.17 2349.4V1451.74H270.8V2349.4M272.6 2349.4V1495.67H276.24V2349.4M278.04 2349.4V1459.77H281.67V2349.4M283.47 2349.4V1474.13H287.1V2349.4M288.9 2349.4V1509.82H292.53V2349.4M294.33 2349.4V1476.24H297.96V2349.4M299.76 2349.4V1502.01H303.4V2349.4M305.2 2349.4V1489.34H308.83V2349.4M310.63 2349.4V1544.25H314.26V2349.4M316.06 2349.4V1514.68H319.69V2349.4M321.49 2349.4V1519.96H325.12V2349.4M326.92 2349.4V1519.96H330.56V2349.4M332.36 2349.4V1531.58H335.99V2349.4M337.79 2349.4V1550.17H341.42V2349.4M343.22 2349.4V1509.82H346.85V2349.4M348.65 2349.4V1548.9H352.28V2349.4M354.08 2349.4V1546.79H357.72V2349.4M359.52 2349.4V1498.42H363.15V2349.4M364.95 2349.4V1519.96H368.58V2349.4M370.38 2349.4V1575.93H374.01V2349.4M375.81 2349.4V1534.75H379.44V2349.4M381.24 2349.4V1544.25H384.88V2349.4M386.68 2349.4V1545.31H390.31V2349.4M392.11 2349.4V1548.9H395.74V2349.4M397.54 2349.4V1565.37H401.17V2349.4M402.97 2349.4V1562.84H406.6V2349.4M408.4 2349.4V1553.76H412.04V2349.4M413.84 2349.4V1574.45H417.47V2349.4M419.27 2349.4V1545.31H422.9V2349.4M424.7 2349.4V1584.8H428.33V2349.4M430.13 2349.4V1592.2H433.76V2349.4M435.56 2349.4V1563.26H439.2V2349.4M441 2349.4V1547H444.63V2349.4M446.43 2349.4V1568.54H450.06V2349.4M451.86 2349.4V1548.9H455.49V2349.4M457.29 2349.4V1611.84H460.92V2349.4M462.72 2349.4V1575.93H466.36V2349.4M468.16 2349.4V1524.61H471.79V2349.4M473.59 2349.4V1542.14H477.22V2349.4M479.02 2349.4V1521.02H482.65V2349.4M484.45 2349.4V1542.56H488.08V2349.4M489.88 2349.4V1597.05H493.52V2349.4M495.32 2349.4V1560.51H498.95V2349.4M500.75 2349.4V1579.74H504.38V2349.4M506.18 2349.4V1579.74H509.81V2349.4M511.61 2349.4V1556.5H515.24V2349.4M517.04 2349.4V1557.98H520.68V2349.4M522.48 2349.4V1591.35H526.11V2349.4M527.91 2349.4V1560.51H531.54V2349.4M533.34 2349.4V1578.47H536.97V2349.4M538.77 2349.4V1597.05H542.4V2349.4M544.2 2349.4V1535.91H547.84V2349.4M549.64 2349.4V1523.25H553.27V2349.4M555.07 2349.4V1599.2H558.7V2349.4M560.5 2349.4V1621.35H564.13V2349.4M565.93 2349.4V1610.8H569.56V2349.4M571.36 2349.4V1558.48H575V2349.4M576.8 2349.4V1581.27H580.43V2349.4M582.23 2349.4V1578.1H585.86V2349.4M587.66 2349.4V1589.28H591.29V2349.4M593.09 2349.4V1547.51H596.72V2349.4M598.52 2349.4V1528.1H602.16V2349.4M603.96 2349.4V1589.28H607.59V2349.4M609.39 2349.4V1521.14H613.02V2349.4M614.82 2349.4V1595.61H618.45V2349.4M620.25 2349.4V1584.43H623.88V2349.4M625.68 2349.4V1532.74H629.32V2349.4M631.12 2349.4V1560.17H634.75V2349.4M636.55 2349.4V1553.84H640.18V2349.4M641.98 2349.4V1574.94H645.61V2349.4M647.41 2349.4V1555.32H651.04V2349.4M652.84 2349.4V1595.4H656.48V2349.4M658.28 2349.4V1537.38H661.91V2349.4M663.71 2349.4V1579.58H667.34V2349.4M669.14 2349.4V1541.18H672.77V2349.4M674.57 2349.4V1571.77H678.2V2349.4M680 2349.4V1560.17H683.64V2349.4M685.44 2349.4V1636.12H689.07V2349.4M690.87 2349.4V1597.09H694.5V2349.4M696.3 2349.4V1608.27H699.93V2349.4M701.73 2349.4V1605.95H705.36V2349.4M707.16 2349.4V1597.09H710.8V2349.4M712.6 2349.4V1619.87H716.23V2349.4M718.03 2349.4V1618.61H721.66V2349.4M723.46 2349.4V1626.2H727.09V2349.4M728.89 2349.4V1608.69H732.52V2349.4M734.32 2349.4V1605.53H737.96V2349.4M739.76 2349.4V1608.69H743.39V2349.4M745.19 2349.4V2071.44H748.4V2349.4M750.2 2349.4V1965.58H753V2349.4M754.8 2349.4V1657.64H758.44V2349.4M760.24 2349.4V1636.12H763.87V2349.4M765.67 2349.4V1626.2H769.31V2349.4M771.11 2349.4V1605.95H774.74V2349.4M776.54 2349.4V1648.78H780.18V2349.4M781.98 2349.4V1610.8H785.61V2349.4M787.41 2349.4V1639.28H791.05V2349.4M792.85 2349.4V1613.54H796.48V2349.4M798.28 2349.4V1613.54H801.92V2349.4M803.72 2349.4V1629.79H807.36V2349.4M809.16 2349.4V1579.58H812.79V2349.4M814.59 2349.4V1622.41H818.23V2349.4M820.03 2349.4V1624.94H823.66V2349.4M825.46 2349.4V1612.49H829.1V2349.4M830.9 2349.4V1605.95H834.53V2349.4M836.33 2349.4V1630.21H839.97V2349.4M841.77 2349.4V1655.11H845.41V2349.4M847.21 2349.4V1618.61H850.84V2349.4M852.64 2349.4V1631.9H856.28V2349.4M858.08 2349.4V1612.49H861.71V2349.4M863.51 2349.4V1618.61H867.15V2349.4M868.95 2349.4V1647.72H872.58V2349.4M874.38 2349.4V1586.12H878.02V2349.4M879.82 2349.4V1623.88H883.45V2349.4M885.25 2349.4V1654.05H888.89V2349.4M890.69 2349.4V1630.21H894.33V2349.4M896.13 2349.4V1639.28H899.76V2349.4M901.56 2349.4V1608.69H905.2V2349.4M907 2349.4V1664.18H910.63V2349.4M912.43 2349.4V1642.45H916.07V2349.4M917.87 2349.4V1646.67H921.5V2349.4M923.3 2349.4V1666.96H926.94V2349.4M928.74 2349.4V1680.25H932.37V2349.4M934.17 2349.4V1686.58H937.81V2349.4M939.61 2349.4V1683.42H943.25V2349.4M945.05 2349.4V1662.32H948.68V2349.4M950.48 2349.4V1665.49H954.12V2349.4M955.92 2349.4V1669.7H959.55V2349.4M961.35 2349.4V1663.8H964.99V2349.4M966.79 2349.4V1704.51H970.42V2349.4M972.22 2349.4V1777.3H975.86V2349.4M977.66 2349.4V1730.25H981.3V2349.4M983.1 2349.4V1730.25H986.73V2349.4M988.53 2349.4V1707.68H992.17V2349.4M993.97 2349.4V1716.12H997.6V2349.4M999.4 2349.4V1732.36H1003.04V2349.4M1004.84 2349.4V1779.41H1008.47V2349.4M1010.27 2349.4V1764.22H1013.91V2349.4M1015.71 2349.4V1764.22H1019.34V2349.4M1021.14 2349.4V1773.08H1024.78V2349.4M1026.58 2349.4V1777.3H1030.22V2349.4M1032.02 2349.4V1789.96H1035.65V2349.4M1037.45 2349.4V1784.05H1041.09V2349.4M1042.89 2349.4V1814.64H1046.52V2349.4M1048.32 2349.4V1853.25H1051.96V2349.4M1053.76 2349.4V1952.41H1057.39V2349.4M1059.19 2349.4V1844.18H1062.83V2349.4M1064.63 2349.4V1885.95H1068.26V2349.4M1070.06 2349.4V1824.35H1073.7V2349.4M1075.5 2349.4V1855.36H1079.14V2349.4M1080.94 2349.4V1868.44H1084.57V2349.4M1086.37 2349.4V1864.85H1090.01V2349.4M1091.81 2349.4V1897.55H1095.44V2349.4M1097.24 2349.4V1879.62H1100.88V2349.4M1102.68 2349.4V1900.3H1106.31V2349.4M1108.11 2349.4V1911.69H1111.75V2349.4M1113.55 2349.4V1943.97H1117.19V2349.4M1118.99 2349.4V1928.14H1122.62V2349.4M1124.42 2349.4V1942.91H1128.06V2349.4M1129.86 2349.4V1959.79H1133.49V2349.4M1135.29 2349.4V1954.09H1138.93V2349.4M1140.73 2349.4V1994.97H1144.36V2349.4M1146.16 2349.4V1993.91H1149.8V2349.4M1151.6 2349.4V2038.64H1155.23V2349.4M1157.03 2349.4V2029.14H1160.67V2349.4M1162.47 2349.4V2025.35H1166.11V2349.4M1167.91 2349.4V2032.31H1171.54V2349.4M1173.34 2349.4V2046.65H1176.98V2349.4M1178.78 2349.4V2043.49H1182.41V2349.4M1184.21 2349.4V2064.59H1187.85V2349.4M1189.65 2349.4V2105.73H1193.28V2349.4M1195.08 2349.4V2092.43H1198.72V2349.4M1200.52 2349.4V2095.18H1204.15V2349.4M1205.95 2349.4V2116.7H1209.59V2349.4M1211.39 2349.4V2147.29H1215.03V2349.4M1216.83 2349.4V2103.41H1220.46V2349.4M1222.26 2349.4V2145.81H1225.9V2349.4M1227.7 2349.4V2155.09H1231.33V2349.4M1233.13 2349.4V2172.6H1236.77V2349.4M1238.57 2349.4V2145.81H1242.2V2349.4M1244 2349.4V2150.45H1247.64V2349.4M1249.44 2349.4V2178.3H1253.08V2349.4M1254.88 2349.4V2185.9H1258.51V2349.4M1260.31 2349.4V2208.89H1263.95V2349.4M1265.75 2349.4V2194.33H1269.38V2349.4M1271.18 2349.4V2203.2H1274.82V2349.4M1276.62 2349.4V2199.61H1280.25V2349.4M1282.05 2349.4V2211.21H1285.69V2349.4M1287.49 2349.4V2228.51H1291.12V2349.4M1292.92 2349.4V2223.87H1296.56V2349.4M1298.36 2349.4V2242.65H1302V2349.4M1303.8 2349.4V2227.04H1307.43V2349.4M1309.23 2349.4V2247.92H1312.87V2349.4M1314.67 2349.4V2236.32H1318.3V2349.4M1320.1 2349.4V2255.94H1323.74V2349.4M1325.54 2349.4V2254.46H1329.17V2349.4M1330.97 2349.4V2254.46H1334.61V2349.4M1336.41 2349.4V2259.1H1340.04V2349.4M1341.84 2349.4V2254.46H1345.48V2349.4M1347.28 2349.4V2262.9H1350.92V2349.4M1352.72 2349.4V2265.85H1356.35V2349.4M1358.15 2349.4V2273.87H1361.79V2349.4M1363.59 2349.4V2264.38H1367.22V2349.4M1369.02 2349.4V2274.29H1372.66V2349.4M1374.46 2349.4V2269.02H1378.09V2349.4M1379.89 2349.4V2290.12H1383.53V2349.4M1385.33 2349.4V2283.37H1388.97V2349.4M1390.77 2349.4V2283.37H1394.4V2349.4M1396.2 2349.4V2289.69H1399.84V2349.4M1401.64 2349.4V2302.77H1405.27V2349.4M1407.07 2349.4V2298.56H1410.71V2349.4M1412.51 2349.4V2289.69H1416.14V2349.4M1417.94 2349.4V2300.24H1421.58V2349.4M1423.38 2349.4V2298.56H1427.01V2349.4M1428.81 2349.4V2306.15H1432.45V2349.4M1434.25 2349.4V2294.97H1437.89V2349.4M1439.69 2349.4V2319.23H1443.32V2349.4M1445.12 2349.4V2306.57H1448.76V2349.4M1450.56 2349.4V2310.79H1454.19V2349.4M1455.99 2349.4V2313.96H1459.63V2349.4M1461.43 2349.4V2306.57H1465.06V2349.4M1466.86 2349.4V2317.54H1470.5V2349.4M1472.3 2349.4V2312.9H1475.93V2349.4M1477.73 2349.4V2324.51H1481.37V2349.4M1483.17 2349.4V2308.05H1486.81V2349.4M1488.61 2349.4V2320.71H1492.24V2349.4M1494.04 2349.4V2314.38H1497.68V2349.4M1499.48 2349.4V2315.01H1503.11V2349.4M1504.91 2349.4V2322.82H1508.55V2349.4M1510.35 2349.4V2313.32H1513.98V2349.4M1515.78 2349.4V2324.93H1519.42V2349.4M1521.22 2349.4V2331.26H1524.86V2349.4M1526.66 2349.4V2320.71H1530.29V2349.4M1532.09 2349.4V2329.15H1535.73V2349.4M1537.53 2349.4V2322.4H1541.16V2349.4M1542.96 2349.4V2322.4H1546.6V2349.4M1548.4 2349.4V2320.71H1552.03V2349.4M1553.83 2349.4V2324.51H1557.47V2349.4M1559.27 2349.4V2329.15H1562.9V2349.4M1564.7 2349.4V2325.98H1568.34V2349.4M1570.14 2349.4V2322.4H1573.78V2349.4M1575.58 2349.4V2336.11H1579.21V2349.4M1581.01 2349.4V2327.04H1584.65V2349.4M1586.45 2349.4V2331.26H1590.08V2349.4M1591.88 2349.4V2327.04H1595.52V2349.4M1597.32 2349.4V2329.15H1600.95V2349.4M1602.75 2349.4V2327.04H1606.39V2349.4M1608.19 2349.4V2332.31H1611.82V2349.4M1613.62 2349.4V2330.83H1617.26V2349.4M1619.06 2349.4V2330.83H1622.7V2349.4M1624.5 2349.4V2337.59H1628.13V2349.4M1629.93 2349.4V2330.83H1633.57V2349.4M1635.37 2349.4V2327.04H1639V2349.4M1640.8 2349.4V2334H1644.44V2349.4M1646.24 2349.4V2343.49H1649.87V2349.4M1651.67 2349.4V2337.16H1655.31V2349.4M1657.11 2349.4V2336.11H1660.75V2349.4M1662.55 2349.4V2337.59H1666.18V2349.4M1667.98 2349.4V2334H1671.62V2349.4M1673.42 2349.4V2336.11H1677.05V2349.4M1678.85 2349.4V2334H1682.49V2349.4M1684.29 2349.4V2339.27H1687.92V2349.4M1689.72 2349.4V2333.58H1693.36V2349.4M1695.16 2349.4V2336.11H1698.79V2349.4M1700.59 2349.4V2328.72H1704.23V2349.4M1706.03 2349.4V2333.58H1709.67V2349.4M1711.47 2349.4V2337.16H1715.1V2349.4M1716.9 2349.4V2339.27H1720.54V2349.4M1722.34 2349.4V2339.27H1725.97V2349.4M1727.77 2349.4V2337.59H1731.41V2349.4M1733.21 2349.4V2335.69H1736.84V2349.4M1738.64 2349.4V2335.69H1742.28V2349.4M1744.08 2349.4V2338.64H1747.71V2349.4M1749.51 2349.4V2339.27H1753.15V2349.4M1754.95 2349.4V2337.16H1758.59V2349.4M1760.39 2349.4V2333.58H1764.02V2349.4M1765.82 2349.4V2342.86H1769.46V2349.4M1771.26 2349.4V2338.64H1774.89V2349.4M1776.69 2349.4V2340.75H1780.33V2349.4M1782.13 2349.4V2340.75H1785.76V2349.4M1787.56 2349.4V2343.91H1791.2V2349.4M1793 2349.4V2343.91H1796.64V2349.4M1798.44 2349.4V2338.64H1802.07V2349.4M1803.87 2349.4V2340.75H1807.51V2349.4M1809.31 2349.4V2339.27H1812.94V2349.4M1814.74 2349.4V2335.69H1818.38V2349.4M1820.18 2349.4V2344.97H1823.81V2349.4M1825.61 2349.4V2340.75H1829.25V2349.4M1831.05 2349.4V2335.69H1834.68V2349.4M1836.48 2349.4V2343.49H1840.12V2349.4M1841.92 2349.4V2335.69H1845.56V2349.4M1847.36 2349.4V2341.38H1850.99V2349.4M1852.79 2349.4V2338.64H1856.43V2349.4M1858.23 2349.4V2340.75H1861.86V2349.4M1863.66 2349.4V2342.44H1867.3V2349.4M1869.1 2349.4V2342.44H1872.73V2349.4M1874.53 2349.4V2338.64H1878.17V2349.4M1879.97 2349.4V2339.27H1883.6V2349.4M1885.4 2349.4V2338.77H1889.04V2349.4M1890.84 2349.4V2341.3H1894.48V2349.4M1896.28 2349.4V2338.26H1899.91V2349.4M1901.71 2349.4V2336.74H1905.35V2349.4M1907.15 2349.4V2342.56H1910.78V2349.4M1912.58 2349.4V2342.56H1916.22V2349.4M1918.02 2349.4V2342.56H1921.65V2349.4M1923.45 2349.4V2342.56H1927.09V2349.4M1928.89 2349.4V2343.83H1932.53V2349.4M1934.33 2349.4V2343.83H1937.96V2349.4M1939.76 2349.4V2342.56H1943.4V2349.4M1945.2 2349.4V2341.8H1948.83V2349.4M1950.63 2349.4V2336.99H1954.27V2349.4M1956.07 2349.4V2346.36H1959.7V2349.4M1961.5 2349.4V2342.56H1965.14V2349.4M1966.94 2349.4V2342.56H1970.57V2349.4M1972.37 2349.4V2347.63H1976.01V2349.4M1977.81 2349.4V2345.1H1981.45V2349.4M1983.25 2349.4V2343.83H1986.88V2349.4M1988.68 2349.4V2346.36H1992.32V2349.4M1994.12 2349.4V2341.8H1997.75V2349.4M1999.55 2349.4V2339.27H2003.19V2349.4M2004.99 2349.4V2342.56H2008.62V2349.4M2010.42 2349.4V2343.83H2014.06V2349.4M2015.86 2349.4V2343.83H2019.49V2349.4M2021.29 2349.4V2343.83H2024.93V2349.4M2026.73 2349.4V2341.8H2030.37V2349.4M2032.17 2349.4V2345.1H2035.8V2349.4M2037.6 2349.4V2341.8H2041.24V2349.4M2043.04 2349.4V2343.83H2046.67V2349.4M2048.47 2349.4V2345.86H2052.11V2349.4M2053.91 2349.4V2340.79H2057.54V2349.4M2059.34 2349.4V2345.1H2062.98V2349.4M2064.78 2349.4V2343.83H2068.42V2349.4M2070.22 2349.4V2342.56H2073.85V2349.4M2075.65 2349.4V2343.83H2079.29V2349.4M2081.09 2349.4V2345.1H2084.72V2349.4M2086.52 2349.4V2345.86H2090.16V2349.4M2091.96 2349.4V2346.87H2095.59V2349.4M2097.39 2349.4V2345.86H2101.03V2349.4M2102.83 2349.4V2347.63H2106.46V2349.4M2108.26 2349.4V2343.83H2111.9V2349.4M2113.7 2349.4V2343.83H2117.34V2349.4M2119.14 2349.4V2345.86H2122.77V2349.4M2124.57 2349.4V2346.36H2128.21V2349.4M2130.01 2349.4V2345.86H2133.64V2349.4M2135.44 2349.4V2345.86H2139.08V2349.4M2140.88 2349.4V2347.63H2144.51V2349.4M2151.75 2349.4V2347.63H2155.38V2349.4M2157.18 2349.4V2345.86H2160.82V2349.4M2162.62 2349.4V2348.39H2166.26V2349.4M2168.06 2349.4V2345.86H2171.69V2349.4M2173.49 2349.4V2347.63H2177.13V2349.4M2184.36 2349.4V2347.12H2188V2349.4M2189.8 2349.4V2347.12H2193.43V2349.4M2200.67 2349.4V2345.86H2204.31V2349.4M2206.11 2349.4V2347.63H2209.74V2349.4M2211.54 2349.4V2347.63H2215.18V2349.4M2216.98 2349.4V2347.63H2220.61V2349.4M2222.41 2349.4V2347.63H2226.05V2349.4M2227.85 2349.4V2347.63H2231.48V2349.4M2233.28 2349.4V2345.86H2236.92V2349.4M2238.72 2349.4V2347.63H2242.35V2349.4M2249.59 2349.4V2346.36H2253.23V2349.4M2255.03 2349.4V2346.36H2258.66V2349.4M2265.9 2349.4V2347.63H2269.53V2349.4M2271.33 2349.4V2345.86H2274.97V2349.4M2276.77 2349.4V2348.39H2280.4V2349.4M2298.51 2349.4V2347.12H2302.15V2349.4M2303.95 2349.4V2348.39H2307.58V2349.4M2309.38 2349.4V2347.12H2313.02V2349.4M2314.82 2349.4V2347.12H2318.45V2349.4M2320.25 2349.4V2348.13H2323.89V2349.4" stroke="#2020ff" stroke-width="1.25" fill="#fff" stroke-linejoin="miter"/>
<path d="M153.1 2349.4V1288.26H156.73V1358.83M158.53 1358.83V1357.33H162.16V1381.64M163.96 1381.64V1380.14H167.6V1381.64M169.4 1381.64V1373.8H173.03V1407.83M174.83 1407.83V1406.33H178.46V1407.83M180.26 1407.83V1373.8H183.89V1436.55M185.69 1436.55V1435.05H189.32V1438.67M191.12 1438.67V1437.17H194.76V1438.67M196.56 1438.67V1399.99H200.19V1464.43M201.99 1464.43V1462.93H205.62V1467.6M207.42 1467.6V1466.1H211.05V1467.6M212.85 1467.6V1464.62H216.48V1466.12M218.28 1466.12V1446.67H221.92V1473.94M223.72 1473.94V1472.44H227.35V1473.94M229.15 1473.94V1454.91H232.78V1472.46M234.58 1472.46V1470.96H238.21V1472.46M240.01 1472.46V1453.43H243.64V1504.56M245.44 1504.56V1503.06H249.08V1504.56M250.88 1504.56V1461.24H254.51V1472.88M256.31 1472.88V1471.38H259.94V1497.17M261.74 1497.17V1495.67H265.37V1497.17M267.17 1497.17V1451.74H270.8V1497.17M272.6 1497.17V1495.67H276.24V1497.17M278.04 1497.17V1459.77H281.67V1475.63M283.47 1475.63V1474.13H287.1V1511.32M288.9 1511.32V1509.82H292.53V1511.32M294.33 1511.32V1476.24H297.96V1503.51M299.76 1503.51V1502.01H303.4V1503.51M305.2 1503.51V1489.34H308.83V1545.75M310.63 1545.75V1544.25H314.26V1545.75M316.06 1545.75V1514.68H319.69V1521.46M321.49 1521.46V1519.96H325.12V1521.46M326.92 1521.46V1519.96H330.56V1533.08M332.36 1533.08V1531.58H335.99V1551.67M337.79 1551.67V1550.17H341.42V1551.67M343.22 1551.67V1509.82H346.85V1550.4M348.65 1550.4V1548.9H352.28V1550.4M354.08 1550.4V1546.79H357.72V1548.29M359.52 1548.29V1498.42H363.15V1521.46M364.95 1521.46V1519.96H368.58V1577.43M370.38 1577.43V1575.93H374.01V1577.43M375.81 1577.43V1534.75H379.44V1545.75M381.24 1545.75V1544.25H384.88V1546.81M386.68 1546.81V1545.31H390.31V1550.4M392.11 1550.4V1548.9H395.74V1566.87M397.54 1566.87V1565.37H401.17V1566.87M402.97 1566.87V1562.84H406.6V1564.34M408.4 1564.34V1553.76H412.04V1575.95M413.84 1575.95V1574.45H417.47V1575.95M419.27 1575.95V1545.31H422.9V1586.3M424.7 1586.3V1584.8H428.33V1593.7M430.13 1593.7V1592.2H433.76V1593.7M435.56 1593.7V1563.26H439.2V1564.76M441 1564.76V1547H444.63V1570.04M446.43 1570.04V1568.54H450.06V1570.04M451.86 1570.04V1548.9H455.49V1613.34M457.29 1613.34V1611.84H460.92V1613.34M462.72 1613.34V1575.93H466.36V1577.43M468.16 1577.43V1524.61H471.79V1543.64M473.59 1543.64V1542.14H477.22V1543.64M479.02 1543.64V1521.02H482.65V1544.06M484.45 1544.06V1542.56H488.08V1598.55M489.88 1598.55V1597.05H493.52V1598.55M495.32 1598.55V1560.51H498.95V1581.24M500.75 1581.24V1579.74H504.38V1581.24M506.18 1581.24V1579.74H509.81V1581.24M511.61 1581.24V1556.5H515.24V1559.48M517.04 1559.48V1557.98H520.68V1592.85M522.48 1592.85V1591.35H526.11V1592.85M527.91 1592.85V1560.51H531.54V1579.97M533.34 1579.97V1578.47H536.97V1598.55M538.77 1598.55V1597.05H542.4V1598.55M544.2 1598.55V1535.91H547.84V1537.41M549.64 1537.41V1523.25H553.27V1600.7M555.07 1600.7V1599.2H558.7V1622.85M560.5 1622.85V1621.35H564.13V1622.85M565.93 1622.85V1610.8H569.56V1612.3M571.36 1612.3V1558.48H575V1582.77M576.8 1582.77V1581.27H580.43V1582.77M582.23 1582.77V1578.1H585.86V1590.78M587.66 1590.78V1589.28H591.29V1590.78M593.09 1590.78V1547.51H596.72V1549.01M598.52 1549.01V1528.1H602.16V1590.78M603.96 1590.78V1589.28H607.59V1590.78M609.39 1590.78V1521.14H613.02V1597.11M614.82 1597.11V1595.61H618.45V1597.11M620.25 1597.11V1584.43H623.88V1585.93M625.68 1585.93V1532.74H629.32V1561.67M631.12 1561.67V1560.17H634.75V1561.67M636.55 1561.67V1553.84H640.18V1576.44M641.98 1576.44V1574.94H645.61V1576.44M647.41 1576.44V1555.32H651.04V1596.9M652.84 1596.9V1595.4H656.48V1596.9M658.28 1596.9V1537.38H661.91V1581.08M663.71 1581.08V1579.58H667.34V1581.08M669.14 1581.08V1541.18H672.77V1573.27M674.57 1573.27V1571.77H678.2V1573.27M680 1573.27V1560.17H683.64V1637.62M685.44 1637.62V1636.12H689.07V1637.62M690.87 1637.62V1597.09H694.5V1609.77M696.3 1609.77V1608.27H699.93V1609.77M701.73 1609.77V1605.95H705.36V1607.45M707.16 1607.45V1597.09H710.8V1621.37M712.6 1621.37V1619.87H716.23V1621.37M718.03 1621.37V1618.61H721.66V1627.7M723.46 1627.7V1626.2H727.09V1627.7M728.89 1627.7V1608.69H732.52V1610.19M734.32 1610.19V1605.53H737.96V1610.19M739.76 1610.19V1608.69H743.39V2072.94M745.19 2072.94V2071.44H748.4V2072.94M750.2 2072.94V1965.58H753V1967.08M754.8 1967.08V1657.64H758.44V1659.14M760.24 1659.14V1636.12H763.87V1637.62M765.67 1637.62V1626.2H769.31V1627.7M771.11 1627.7V1605.95H774.74V1650.28M776.54 1650.28V1648.78H780.18V1650.28M781.98 1650.28V1610.8H785.61V1640.78M787.41 1640.78V1639.28H791.05V1640.78M792.85 1640.78V1613.54H796.48V1615.04M798.28 1615.04V1613.54H801.92V1631.29M803.72 1631.29V1629.79H807.36V1631.29M809.16 1631.29V1579.58H812.79V1623.91M814.59 1623.91V1622.41H818.23V1626.44M820.03 1626.44V1624.94H823.66V1626.44M825.46 1626.44V1612.49H829.1V1613.99M830.9 1613.99V1605.95H834.53V1631.71M836.33 1631.71V1630.21H839.97V1656.61M841.77 1656.61V1655.11H845.41V1656.61M847.21 1656.61V1618.61H850.84V1633.4M852.64 1633.4V1631.9H856.28V1633.4M858.08 1633.4V1612.49H861.71V1620.11M863.51 1620.11V1618.61H867.15V1649.22M868.95 1649.22V1647.72H872.58V1649.22M874.38 1649.22V1586.12H878.02V1625.38M879.82 1625.38V1623.88H883.45V1655.55M885.25 1655.55V1654.05H888.89V1655.55M890.69 1655.55V1630.21H894.33V1640.78M896.13 1640.78V1639.28H899.76V1640.78M901.56 1640.78V1608.69H905.2V1665.68M907 1665.68V1664.18H910.63V1665.68M912.43 1665.68V1642.45H916.07V1648.17M917.87 1648.17V1646.67H921.5V1668.46M923.3 1668.46V1666.96H926.94V1681.75M928.74 1681.75V1680.25H932.37V1688.08M934.17 1688.08V1686.58H937.81V1688.08M939.61 1688.08V1683.42H943.25V1684.92M945.05 1684.92V1662.32H948.68V1666.99M950.48 1666.99V1665.49H954.12V1671.2M955.92 1671.2V1669.7H959.55V1671.2M961.35 1671.2V1663.8H964.99V1706.01M966.79 1706.01V1704.51H970.42V1778.8M972.22 1778.8V1777.3H975.86V1778.8M977.66 1778.8V1730.25H981.3V1731.75M983.1 1731.75V1730.25H986.73V1731.75M988.53 1731.75V1707.68H992.17V1717.62M993.97 1717.62V1716.12H997.6V1733.86M999.4 1733.86V1732.36H1003.04V1780.91M1004.84 1780.91V1779.41H1008.47V1780.91M1010.27 1780.91V1764.22H1013.91V1765.72M1015.71 1765.72V1764.22H1019.34V1774.58M1021.14 1774.58V1773.08H1024.78V1778.8M1026.58 1778.8V1777.3H1030.22V1791.46M1032.02 1791.46V1789.96H1035.65V1791.46M1037.45 1791.46V1784.05H1041.09V1816.14M1042.89 1816.14V1814.64H1046.52V1854.75M1048.32 1854.75V1853.25H1051.96V1953.91M1053.76 1953.91V1952.41H1057.39V1953.91M1059.19 1953.91V1844.18H1062.83V1887.45M1064.63 1887.45V1885.95H1068.26V1887.45M1070.06 1887.45V1824.35H1073.7V1856.86M1075.5 1856.86V1855.36H1079.14V1869.94M1080.94 1869.94V1868.44H1084.57V1869.94M1086.37 1869.94V1864.85H1090.01V1899.05M1091.81 1899.05V1897.55H1095.44V1899.05M1097.24 1899.05V1879.62H1100.88V1901.8M1102.68 1901.8V1900.3H1106.31V1913.19M1108.11 1913.19V1911.69H1111.75V1945.47M1113.55 1945.47V1943.97H1117.19V1945.47M1118.99 1945.47V1928.14H1122.62V1944.41M1124.42 1944.41V1942.91H1128.06V1961.29M1129.86 1961.29V1959.79H1133.49V1961.29M1135.29 1961.29V1954.09H1138.93V1996.47M1140.73 1996.47V1994.97H1144.36V1996.47M1146.16 1996.47V1993.91H1149.8V2040.14M1151.6 2040.14V2038.64H1155.23V2040.14M1157.03 2040.14V2029.14H1160.67V2030.64M1162.47 2030.64V2025.35H1166.11V2033.81M1167.91 2033.81V2032.31H1171.54V2048.15M1173.34 2048.15V2046.65H1176.98V2048.15M1178.78 2048.15V2043.49H1182.41V2066.09M1184.21 2066.09V2064.59H1187.85V2107.23M1189.65 2107.23V2105.73H1193.28V2107.23M1195.08 2107.23V2092.43H1198.72V2096.68M1200.52 2096.68V2095.18H1204.15V2118.2M1205.95 2118.2V2116.7H1209.59V2148.79M1211.39 2148.79V2147.29H1215.03V2148.79M1216.83 2148.79V2103.41H1220.46V2147.31M1222.26 2147.31V2145.81H1225.9V2156.59M1227.7 2156.59V2155.09H1231.33V2174.1M1233.13 2174.1V2172.6H1236.77V2174.1M1238.57 2174.1V2145.81H1242.2V2151.95M1244 2151.95V2150.45H1247.64V2179.8M1249.44 2179.8V2178.3H1253.08V2187.4M1254.88 2187.4V2185.9H1258.51V2210.39M1260.31 2210.39V2208.89H1263.95V2210.39M1265.75 2210.39V2194.33H1269.38V2204.7M1271.18 2204.7V2203.2H1274.82V2204.7M1276.62 2204.7V2199.61H1280.25V2212.71M1282.05 2212.71V2211.21H1285.69V2230.01M1287.49 2230.01V2228.51H1291.12V2230.01M1292.92 2230.01V2223.87H1296.56V2244.15M1298.36 2244.15V2242.65H1302V2244.15M1303.8 2244.15V2227.04H1307.43V2249.42M1309.23 2249.42V2247.92H1312.87V2249.42M1314.67 2249.42V2236.32H1318.3V2257.44M1320.1 2257.44V2255.94H1323.74V2257.44M1325.54 2257.44V2254.46H1329.17V2255.96M1330.97 2255.96V2254.46H1334.61V2260.6M1336.41 2260.6V2259.1H1340.04V2260.6M1341.84 2260.6V2254.46H1345.48V2264.4M1347.28 2264.4V2262.9H1350.92V2267.35M1352.72 2267.35V2265.85H1356.35V2275.37M1358.15 2275.37V2273.87H1361.79V2275.37M1363.59 2275.37V2264.38H1367.22V2275.79M1369.02 2275.79V2274.29H1372.66V2275.79M1374.46 2275.79V2269.02H1378.09V2291.62M1379.89 2291.62V2290.12H1383.53V2291.62M1385.33 2291.62V2283.37H1388.97V2284.87M1390.77 2284.87V2283.37H1394.4V2291.19M1396.2 2291.19V2289.69H1399.84V2304.27M1401.64 2304.27V2302.77H1405.27V2304.27M1407.07 2304.27V2298.56H1410.71V2300.06M1412.51 2300.06V2289.69H1416.14V2301.74M1417.94 2301.74V2300.24H1421.58V2301.74M1423.38 2301.74V2298.56H1427.01V2307.65M1428.81 2307.65V2306.15H1432.45V2307.65M1434.25 2307.65V2294.97H1437.89V2320.73M1439.69 2320.73V2319.23H1443.32V2320.73M1445.12 2320.73V2306.57H1448.76V2312.29M1450.56 2312.29V2310.79H1454.19V2315.46M1455.99 2315.46V2313.96H1459.63V2315.46M1461.43 2315.46V2306.57H1465.06V2319.04M1466.86 2319.04V2317.54H1470.5V2319.04M1472.3 2319.04V2312.9H1475.93V2326.01M1477.73 2326.01V2324.51H1481.37V2326.01M1483.17 2326.01V2308.05H1486.81V2322.21M1488.61 2322.21V2320.71H1492.24V2322.21M1494.04 2322.21V2314.38H1497.68V2316.51M1499.48 2316.51V2315.01H1503.11V2324.32M1504.91 2324.32V2322.82H1508.55V2324.32M1510.35 2324.32V2313.32H1513.98V2326.43M1515.78 2326.43V2324.93H1519.42V2332.76M1521.22 2332.76V2331.26H1524.86V2332.76M1526.66 2332.76V2320.71H1530.29V2330.65M1532.09 2330.65V2329.15H1535.73V2330.65M1537.53 2330.65V2322.4H1541.16V2323.9M1542.96 2323.9V2322.4H1546.6V2323.9M1548.4 2323.9V2320.71H1552.03V2326.01M1553.83 2326.01V2324.51H1557.47V2330.65M1559.27 2330.65V2329.15H1562.9V2330.65M1564.7 2330.65V2325.98H1568.34V2327.48M1570.14 2327.48V2322.4H1573.78V2337.61M1575.58 2337.61V2336.11H1579.21V2337.61M1581.01 2337.61V2327.04H1584.65V2332.76M1586.45 2332.76V2331.26H1590.08V2332.76M1591.88 2332.76V2327.04H1595.52V2330.65M1597.32 2330.65V2329.15H1600.95V2330.65M1602.75 2330.65V2327.04H1606.39V2333.81M1608.19 2333.81V2332.31H1611.82V2333.81M1613.62 2333.81V2330.83H1617.26V2332.33M1619.06 2332.33V2330.83H1622.7V2339.09M1624.5 2339.09V2337.59H1628.13V2339.09M1629.93 2339.09V2330.83H1633.57V2332.33M1635.37 2332.33V2327.04H1639V2335.5M1640.8 2335.5V2334H1644.44V2344.99M1646.24 2344.99V2343.49H1649.87V2344.99M1651.67 2344.99V2337.16H1655.31V2338.66M1657.11 2338.66V2336.11H1660.75V2339.09M1662.55 2339.09V2337.59H1666.18V2339.09M1667.98 2339.09V2334H1671.62V2337.61M1673.42 2337.61V2336.11H1677.05V2337.61M1678.85 2337.61V2334H1682.49V2340.77M1684.29 2340.77V2339.27H1687.92V2340.77M1689.72 2340.77V2333.58H1693.36V2337.61M1695.16 2337.61V2336.11H1698.79V2337.61M1700.59 2337.61V2328.72H1704.23V2335.08M1706.03 2335.08V2333.58H1709.67V2338.66M1711.47 2338.66V2337.16H1715.1V2340.77M1716.9 2340.77V2339.27H1720.54V2340.77M1722.34 2340.77V2339.27H1725.97V2340.77M1727.77 2340.77V2337.59H1731.41V2339.09M1733.21 2339.09V2335.69H1736.84V2337.19M1738.64 2337.19V2335.69H1742.28V2340.14M1744.08 2340.14V2338.64H1747.71V2340.77M1749.51 2340.77V2339.27H1753.15V2340.77M1754.95 2340.77V2337.16H1758.59V2338.66M1760.39 2338.66V2333.58H1764.02V2344.36M1765.82 2344.36V2342.86H1769.46V2344.36M1771.26 2344.36V2338.64H1774.89V2342.25M1776.69 2342.25V2340.75H1780.33V2342.25M1782.13 2342.25V2340.75H1785.76V2345.41M1787.56 2345.41V2343.91H1791.2V2345.41M1793 2345.41V2343.91H1796.64V2345.41M1798.44 2345.41V2338.64H1802.07V2342.25M1803.87 2342.25V2340.75H1807.51V2342.25M1809.31 2342.25V2339.27H1812.94V2340.77M1814.74 2340.77V2335.69H1818.38V2346.47M1820.18 2346.47V2344.97H1823.81V2346.47M1825.61 2346.47V2340.75H1829.25V2342.25M1831.05 2342.25V2335.69H1834.68V2344.99M1836.48 2344.99V2343.49H1840.12V2344.99M1841.92 2344.99V2335.69H1845.56V2342.88M1847.36 2342.88V2341.38H1850.99V2342.88M1852.79 2342.88V2338.64H1856.43V2342.25M1858.23 2342.25V2340.75H1861.86V2343.94M1863.66 2343.94V2342.44H1867.3V2343.94M1869.1 2343.94V2342.44H1872.73V2343.94M1874.53 2343.94V2338.64H1878.17V2340.77M1879.97 2340.77V2339.27H1883.6V2340.77M1885.4 2340.77V2338.77H1889.04V2342.8M1890.84 2342.8V2341.3H1894.48V2342.8M1896.28 2342.8V2338.26H1899.91V2339.76M1901.71 2339.76V2336.74H1905.35V2344.06M1907.15 2344.06V2342.56H1910.78V2344.06M1912.58 2344.06V2342.56H1916.22V2344.06M1918.02 2344.06V2342.56H1921.65V2344.06M1923.45 2344.06V2342.56H1927.09V2345.33M1928.89 2345.33V2343.83H1932.53V2345.33M1934.33 2345.33V2343.83H1937.96V2345.33M1939.76 2345.33V2342.56H1943.4V2344.06M1945.2 2344.06V2341.8H1948.83V2343.3M1950.63 2343.3V2336.99H1954.27V2347.86M1956.07 2347.86V2346.36H1959.7V2347.86M1961.5 2347.86V2342.56H1965.14V2344.06M1966.94 2344.06V2342.56H1970.57V2349.13M1972.37 2349.13V2347.63H1976.01V2349.13M1977.81 2349.13V2345.1H1981.45V2346.6M1983.25 2346.6V2343.83H1986.88V2347.86M1988.68 2347.86V2346.36H1992.32V2347.86M1994.12 2347.86V2341.8H1997.75V2343.3M1999.55 2343.3V2339.27H2003.19V2344.06M2004.99 2344.06V2342.56H2008.62V2345.33M2010.42 2345.33V2343.83H2014.06V2345.33M2015.86 2345.33V2343.83H2019.49V2345.33M2021.29 2345.33V2343.83H2024.93V2345.33M2026.73 2345.33V2341.8H2030.37V2346.6M2032.17 2346.6V2345.1H2035.8V2346.6M2037.6 2346.6V2341.8H2041.24V2345.33M2043.04 2345.33V2343.83H2046.67V2347.36M2048.47 2347.36V2345.86H2052.11V2347.36M2053.91 2347.36V2340.79H2057.54V2346.6M2059.34 2346.6V2345.1H2062.98V2346.6M2064.78 2346.6V2343.83H2068.42V2345.33M2070.22 2345.33V2342.56H2073.85V2345.33M2075.65 2345.33V2343.83H2079.29V2346.6M2081.09 2346.6V2345.1H2084.72V2347.36M2086.52 2347.36V2345.86H2090.16V2348.37M2091.96 2348.37V2346.87H2095.59V2348.37M2097.39 2348.37V2345.86H2101.03V2349.13M2102.83 2349.13V2347.63H2106.46V2349.13M2108.26 2349.13V2343.83H2111.9V2345.33M2113.7 2345.33V2343.83H2117.34V2347.36M2119.14 2347.36V2345.86H2122.77V2347.86M2124.57 2347.86V2346.36H2128.21V2347.86M2130.01 2347.86V2345.86H2133.64V2347.36M2135.44 2347.36V2345.86H2139.08V2349.13M2140.88 2349.13V2347.63H2144.51V2349.4M2151.75 2349.4V2347.63H2155.38V2349.13M2157.18 2349.13V2345.86H2160.82V2349.4M2162.62 2349.4V2348.39H2166.26V2349.4M2168.06 2349.4V2345.86H2171.69V2349.13M2173.49 2349.13V2347.63H2177.13V2349.4M2184.36 2349.4V2347.12H2188V2348.62M2189.8 2348.62V2347.12H2193.43V2349.4M2200.67 2349.4V2345.86H2204.31V2349.13M2206.11 2349.13V2347.63H2209.74V2349.13M2211.54 2349.13V2347.63H2215.18V2349.13M2216.98 2349.13V2347.63H2220.61V2349.13M2222.41 2349.13V2347.63H2226.05V2349.13M2227.85 2349.13V2347.63H2231.48V2349.13M2233.28 2349.13V2345.86H2236.92V2349.13M2238.72 2349.13V2347.63H2242.35V2349.4M2249.59 2349.4V2346.36H2253.23V2347.86M2255.03 2347.86V2346.36H2258.66V2349.4M2265.9 2349.4V2347.63H2269.53V2349.13M2271.33 2349.13V2345.86H2274.97V2349.4M2276.77 2349.4V2348.39H2280.4V2349.4M2298.51 2349.4V2347.12H2302.15V2349.4M2303.95 2349.4V2348.39H2307.58V2349.4M2309.38 2349.4V2347.12H2313.02V2348.62M2314.82 2348.62V2347.12H2318.45V2349.4M2320.25 2349.4V2348.13H2323.89V2349.4" stroke="#2020ff" stroke-width="1.9" fill="none" stroke-linejoin="miter"/>
<path d="M152.2 2363.4V1263.5H2329.5V2350.4" stroke="#333" stroke-width="2.2" fill="none"/>
<path d="M138.6 2349.4H2329.5" stroke="#333" stroke-width="2.2"/>
<path d="M153.2 2349.2H2326.29" stroke="#0000d0" stroke-width="2.8"/>
<text x="131.2" y="2358.67" text-anchor="end" class="b" font-size="25.9">0</text>
<text x="131.2" y="2299.53" text-anchor="end" class="b" font-size="25.9">100</text>
<text x="131.2" y="2240.39" text-anchor="end" class="b" font-size="25.9">200</text>
<text x="131.2" y="2181.25" text-anchor="end" class="b" font-size="25.9">300</text>
<text x="131.2" y="2122.11" text-anchor="end" class="b" font-size="25.9">400</text>
<text x="131.2" y="2062.97" text-anchor="end" class="b" font-size="25.9">500</text>
<text x="131.2" y="2003.83" text-anchor="end" class="b" font-size="25.9">600</text>
<text x="131.2" y="1944.69" text-anchor="end" class="b" font-size="25.9">700</text>
<text x="131.2" y="1885.55" text-anchor="end" class="b" font-size="25.9">800</text>
<text x="131.2" y="1826.41" text-anchor="end" class="b" font-size="25.9">900</text>
<text x="131.2" y="1767.27" text-anchor="end" class="b" font-size="25.9">1000</text>
<text x="131.2" y="1708.13" text-anchor="end" class="b" font-size="25.9">1100</text>
<text x="131.2" y="1648.99" text-anchor="end" class="b" font-size="25.9">1200</text>
<text x="131.2" y="1589.85" text-anchor="end" class="b" font-size="25.9">1300</text>
<text x="131.2" y="1530.71" text-anchor="end" class="b" font-size="25.9">1400</text>
<text x="131.2" y="1471.57" text-anchor="end" class="b" font-size="25.9">1500</text>
<text x="131.2" y="1412.43" text-anchor="end" class="b" font-size="25.9">1600</text>
<text x="131.2" y="1353.29" text-anchor="end" class="b" font-size="25.9">1700</text>
<text x="131.2" y="1294.15" text-anchor="end" class="b" font-size="25.9">1800</text>
<text x="152.2" y="2389.6" text-anchor="middle" class="b" font-size="25.9">0.4</text>
<text x="294.75" y="2389.6" text-anchor="middle" class="b" font-size="25.9">0.5</text>
<text x="411.23" y="2389.6" text-anchor="middle" class="b" font-size="25.9">0.6</text>
<text x="509.71" y="2389.6" text-anchor="middle" class="b" font-size="25.9">0.7</text>
<text x="595.02" y="2389.6" text-anchor="middle" class="b" font-size="25.9">0.8</text>
<text x="670.26" y="2389.6" text-anchor="middle" class="b" font-size="25.9">0.9</text>
<text x="737.57" y="2389.6" text-anchor="middle" class="b" font-size="25.9">1</text>
<text x="1180.38" y="2389.6" text-anchor="middle" class="b" font-size="25.9">2</text>
<text x="1439.42" y="2389.6" text-anchor="middle" class="b" font-size="25.9">3</text>
<text x="1623.2" y="2389.6" text-anchor="middle" class="b" font-size="25.9">4</text>
<text x="1765.75" y="2389.6" text-anchor="middle" class="b" font-size="25.9">5</text>
<text x="1882.23" y="2389.6" text-anchor="middle" class="b" font-size="25.9">6</text>
<text x="1980.71" y="2389.6" text-anchor="middle" class="b" font-size="25.9">7</text>
<text x="2066.02" y="2389.6" text-anchor="middle" class="b" font-size="25.9">8</text>
<text x="2141.26" y="2389.6" text-anchor="middle" class="b" font-size="25.9">9</text>
<text x="2208.57" y="2389.6" text-anchor="middle" class="b" font-size="25.9">10</text>
<path d="M138.6 2349.4H152.2M138.6 2290.26H152.2M138.6 2231.12H152.2M138.6 2171.98H152.2M138.6 2112.84H152.2M138.6 2053.7H152.2M138.6 1994.56H152.2M138.6 1935.42H152.2M138.6 1876.28H152.2M138.6 1817.14H152.2M138.6 1758H152.2M138.6 1698.86H152.2M138.6 1639.72H152.2M138.6 1580.58H152.2M138.6 1521.44H152.2M138.6 1462.3H152.2M138.6 1403.16H152.2M138.6 1344.02H152.2M138.6 1284.88H152.2M152.2 2349.4V2363.4M294.75 2349.4V2363.4M411.23 2349.4V2363.4M509.71 2349.4V2363.4M595.02 2349.4V2363.4M670.26 2349.4V2363.4M737.57 2349.4V2363.4M1180.38 2349.4V2363.4M1439.42 2349.4V2363.4M1623.2 2349.4V2363.4M1765.75 2349.4V2363.4M1882.23 2349.4V2363.4M1980.71 2349.4V2363.4M2066.02 2349.4V2363.4M2141.26 2349.4V2363.4M2208.57 2349.4V2363.4" stroke="#333" stroke-width="2.2" fill="none"/>
<text x="1237.3" y="1250.1" text-anchor="middle" class="b" font-size="25.75">Differential Number</text>
<text x="1239.3" y="2421.5" text-anchor="middle" class="b" font-size="25.4">Particle Diameter (µm)</text>
<text transform="translate(42 1829.6) rotate(-90)" text-anchor="middle" class="b" font-size="27">Number</text>
<text transform="translate(199.6 1346.3) scale(1.07 1)" class="b" font-size="88" stroke="#000" stroke-width="5.2" stroke-linejoin="miter">B</text>
<path d="M1857.5 1284.8H1922.7" stroke="#3030ff" stroke-width="1.8"/>
<text x="1934.9" y="1293.2" class="b" font-size="26">PAFbPGNMN2_MK_02_17.#m4</text>
<rect x="2003.5" y="1327" width="307.5" height="353.5" fill="#fff" stroke="#000" stroke-width="2.6"/>
<rect x="2288.4" y="1327" width="22.6" height="21.5" fill="#fff" stroke="#222" stroke-width="1.3"/>
<path d="M2293.6 1332.2L2305.8 1343.3M2305.8 1332.2L2293.6 1343.3" stroke="#333" stroke-width="1.3" fill="none"/>
<text x="2023.4" y="1368" class="r" font-size="25.5">0.400 µm to 12.00 µm</text>
<text x="2023.4" y="1400.42" class="r" font-size="25.5">Number:</text>
<text x="2147.9" y="1400.42" class="r" font-size="25.5">244417</text>
<text x="2023.4" y="1432.84" class="r" font-size="25.5">Mean:</text>
<text x="2147.9" y="1432.84" class="r" font-size="25.5">1.022 µm</text>
<text x="2023.4" y="1465.26" class="r" font-size="25.5">Median:</text>
<text x="2147.9" y="1465.26" class="r" font-size="25.5">0.840 µm</text>
<text x="2023.4" y="1497.68" class="r" font-size="25.5">S.D.:</text>
<text x="2147.9" y="1497.68" class="r" font-size="25.5">0.71 µm</text>
<text x="2023.4" y="1530.1" class="r" font-size="25.5">C.V.:</text>
<text x="2147.9" y="1530.1" class="r" font-size="25.5">69.1%</text>
<text x="2023.4" y="1562.52" class="r" font-size="25.5">Mode:</text>
<text x="2147.9" y="1562.52" class="r" font-size="25.5">0.402 µm</text>
<text x="2023.4" y="1594.94" class="r" font-size="25.5">d<tspan font-size="15.3" dy="3.06">10</tspan><tspan dy="-3.06">:</tspan></text>
<text x="2147.9" y="1594.94" class="r" font-size="25.5">0.456 µm</text>
<text x="2023.4" y="1627.36" class="r" font-size="25.5">d<tspan font-size="15.3" dy="3.06">50</tspan><tspan dy="-3.06">:</tspan></text>
<text x="2147.9" y="1627.36" class="r" font-size="25.5">0.840 µm</text>
<text x="2023.4" y="1659.78" class="r" font-size="25.5">d<tspan font-size="15.3" dy="3.06">90</tspan><tspan dy="-3.06">:</tspan></text>
<text x="2147.9" y="1659.78" class="r" font-size="25.5">1.741 µm</text>
</g>
</svg>
</body></html>
